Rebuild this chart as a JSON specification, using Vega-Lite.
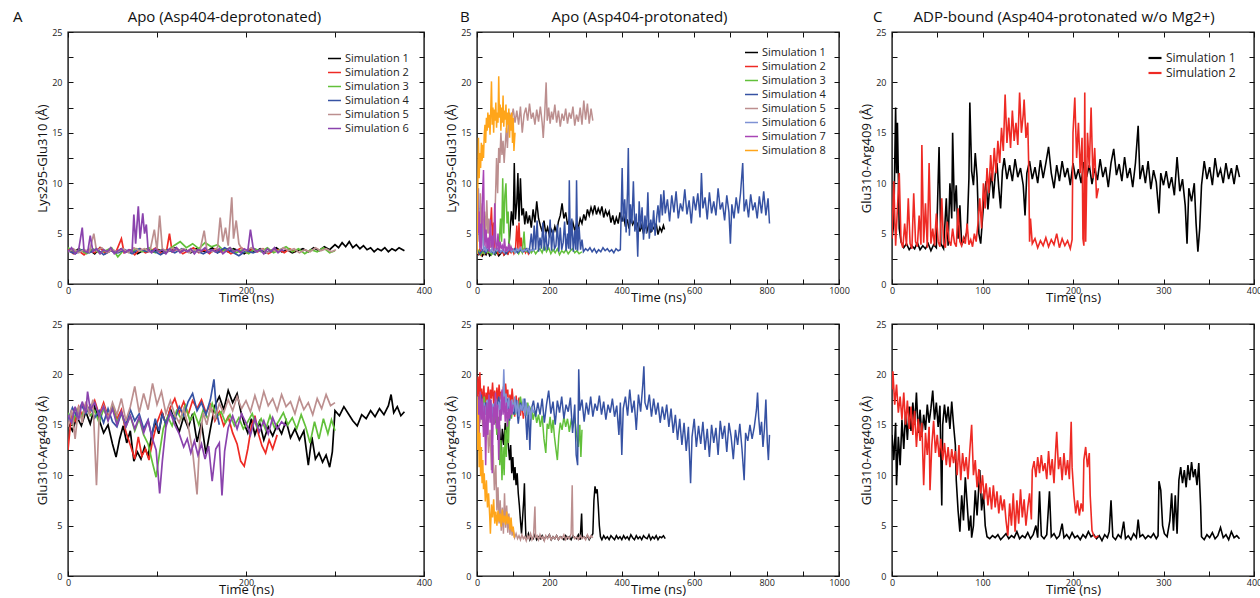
{
"$schema": "https://vega.github.io/schema/vega-lite/v6.json",
"padding": {"left": 12, "top": 9, "right": 0, "bottom": 0},
"config": {
  "font": "Open Sans",
  "view": {"stroke": "#111", "strokeWidth": 1.4},
  "axis": {"grid": false, "domain": false, "tickColor": "#111", "tickWidth": 1, "labelFontSize": 9, "labelColor": "#222", "titleFontSize": 13, "titleFontWeight": "normal", "titleColor": "#111", "labelFont": "Open Sans", "titleFont": "Open Sans"},
  "title": {"fontSize": 15, "fontWeight": "normal", "anchor": "start", "frame": "group", "color": "#111", "offset": 3, "font": "Open Sans"},
  "legend": {"orient": "none", "title": null, "symbolType": "stroke", "symbolSize": 169, "symbolStrokeWidth": 1.5, "labelFontSize": 11, "labelColor": "#222", "labelOffset": 3, "rowPadding": 1, "padding": 0}
},
"datasets": {
"at": [
{"s":1,"t":0,"v":3.4},{"s":1,"t":6,"v":3.1},{"s":1,"t":12,"v":3.5},{"s":1,"t":18,"v":3.2},{"s":1,"t":24,"v":3.4},{"s":1,"t":30,"v":3.0},{"s":1,"t":36,"v":3.6},{"s":1,"t":42,"v":3.2},{"s":1,"t":48,"v":3.3},{"s":1,"t":54,"v":3.1},{"s":1,"t":60,"v":3.5},{"s":1,"t":66,"v":3.2},{"s":1,"t":72,"v":3.4},{"s":1,"t":78,"v":3.0},{"s":1,"t":84,"v":3.3},{"s":1,"t":90,"v":3.5},{"s":1,"t":96,"v":3.2},{"s":1,"t":102,"v":3.4},{"s":1,"t":108,"v":3.1},{"s":1,"t":114,"v":3.3},{"s":1,"t":120,"v":3.6},{"s":1,"t":126,"v":3.2},{"s":1,"t":132,"v":3.4},{"s":1,"t":138,"v":3.1},{"s":1,"t":144,"v":3.5},{"s":1,"t":150,"v":3.3},{"s":1,"t":156,"v":3.2},{"s":1,"t":162,"v":3.6},{"s":1,"t":168,"v":3.1},{"s":1,"t":174,"v":3.4},{"s":1,"t":180,"v":3.2},{"s":1,"t":186,"v":3.5},{"s":1,"t":192,"v":3.3},{"s":1,"t":198,"v":3.0},{"s":1,"t":204,"v":3.4},{"s":1,"t":210,"v":3.2},{"s":1,"t":216,"v":3.5},{"s":1,"t":222,"v":3.1},{"s":1,"t":228,"v":3.3},{"s":1,"t":234,"v":3.6},{"s":1,"t":240,"v":3.2},{"s":1,"t":246,"v":3.4},{"s":1,"t":252,"v":3.1},{"s":1,"t":258,"v":3.3},{"s":1,"t":264,"v":3.5},{"s":1,"t":270,"v":3.2},{"s":1,"t":276,"v":3.6},{"s":1,"t":282,"v":3.3},{"s":1,"t":288,"v":3.7},{"s":1,"t":294,"v":3.4},{"s":1,"t":300,"v":3.9},{"s":1,"t":304,"v":3.6},{"s":1,"t":308,"v":4.1},{"s":1,"t":312,"v":3.7},{"s":1,"t":316,"v":4.2},{"s":1,"t":320,"v":3.6},{"s":1,"t":324,"v":3.9},{"s":1,"t":328,"v":3.5},{"s":1,"t":332,"v":3.8},{"s":1,"t":336,"v":3.4},{"s":1,"t":340,"v":3.6},{"s":1,"t":344,"v":3.2},{"s":1,"t":348,"v":3.5},{"s":1,"t":352,"v":3.3},{"s":1,"t":356,"v":3.6},{"s":1,"t":360,"v":3.2},{"s":1,"t":364,"v":3.5},{"s":1,"t":368,"v":3.3},{"s":1,"t":372,"v":3.6},{"s":1,"t":376,"v":3.4},{"s":1,"t":378,"v":3.3},
{"s":2,"t":0,"v":3.5},{"s":2,"t":6,"v":3.0},{"s":2,"t":12,"v":3.3},{"s":2,"t":18,"v":2.9},{"s":2,"t":24,"v":3.4},{"s":2,"t":30,"v":3.1},{"s":2,"t":36,"v":3.6},{"s":2,"t":42,"v":3.0},{"s":2,"t":48,"v":3.3},{"s":2,"t":54,"v":3.2},{"s":2,"t":60,"v":4.5},{"s":2,"t":63,"v":3.1},{"s":2,"t":69,"v":3.4},{"s":2,"t":75,"v":2.9},{"s":2,"t":81,"v":3.5},{"s":2,"t":87,"v":3.1},{"s":2,"t":93,"v":3.3},{"s":2,"t":99,"v":3.6},{"s":2,"t":105,"v":3.0},{"s":2,"t":111,"v":3.4},{"s":2,"t":114,"v":5.0},{"s":2,"t":117,"v":3.2},{"s":2,"t":123,"v":3.5},{"s":2,"t":129,"v":3.0},{"s":2,"t":135,"v":3.3},{"s":2,"t":141,"v":3.6},{"s":2,"t":147,"v":3.1},{"s":2,"t":153,"v":3.4},{"s":2,"t":159,"v":3.0},{"s":2,"t":165,"v":3.5},{"s":2,"t":171,"v":3.2},{"s":2,"t":177,"v":3.4},{"s":2,"t":183,"v":3.0},{"s":2,"t":189,"v":3.3},{"s":2,"t":195,"v":3.6},{"s":2,"t":201,"v":3.1},{"s":2,"t":207,"v":3.4},{"s":2,"t":213,"v":3.2},{"s":2,"t":219,"v":3.5},{"s":2,"t":225,"v":3.0},{"s":2,"t":231,"v":3.3},{"s":2,"t":237,"v":3.4},{"s":2,"t":243,"v":3.1},{"s":2,"t":249,"v":3.5},{"s":2,"t":255,"v":3.2},
{"s":3,"t":0,"v":3.6},{"s":3,"t":7,"v":3.2},{"s":3,"t":14,"v":3.4},{"s":3,"t":21,"v":3.0},{"s":3,"t":28,"v":3.5},{"s":3,"t":35,"v":3.1},{"s":3,"t":42,"v":3.3},{"s":3,"t":49,"v":3.6},{"s":3,"t":56,"v":2.7},{"s":3,"t":63,"v":3.4},{"s":3,"t":70,"v":3.1},{"s":3,"t":77,"v":3.5},{"s":3,"t":84,"v":3.2},{"s":3,"t":91,"v":3.6},{"s":3,"t":98,"v":3.1},{"s":3,"t":105,"v":3.4},{"s":3,"t":112,"v":3.3},{"s":3,"t":119,"v":3.8},{"s":3,"t":126,"v":4.2},{"s":3,"t":133,"v":3.6},{"s":3,"t":140,"v":4.0},{"s":3,"t":147,"v":3.5},{"s":3,"t":154,"v":4.1},{"s":3,"t":161,"v":3.7},{"s":3,"t":168,"v":3.9},{"s":3,"t":175,"v":3.3},{"s":3,"t":182,"v":3.6},{"s":3,"t":189,"v":3.1},{"s":3,"t":196,"v":3.4},{"s":3,"t":203,"v":3.0},{"s":3,"t":210,"v":3.5},{"s":3,"t":217,"v":3.2},{"s":3,"t":224,"v":3.6},{"s":3,"t":231,"v":3.1},{"s":3,"t":238,"v":3.4},{"s":3,"t":245,"v":3.7},{"s":3,"t":252,"v":3.2},{"s":3,"t":259,"v":3.5},{"s":3,"t":266,"v":3.0},{"s":3,"t":273,"v":3.4},{"s":3,"t":280,"v":3.2},{"s":3,"t":287,"v":3.6},{"s":3,"t":294,"v":3.1},{"s":3,"t":300,"v":3.3},
{"s":4,"t":0,"v":3.3},{"s":4,"t":8,"v":3.0},{"s":4,"t":16,"v":3.4},{"s":4,"t":24,"v":3.1},{"s":4,"t":32,"v":3.5},{"s":4,"t":40,"v":2.9},{"s":4,"t":48,"v":3.3},{"s":4,"t":56,"v":3.1},{"s":4,"t":64,"v":3.4},{"s":4,"t":72,"v":3.0},{"s":4,"t":80,"v":3.5},{"s":4,"t":88,"v":3.2},{"s":4,"t":96,"v":3.3},{"s":4,"t":104,"v":2.9},{"s":4,"t":112,"v":3.4},{"s":4,"t":120,"v":3.1},{"s":4,"t":128,"v":3.5},{"s":4,"t":136,"v":3.2},{"s":4,"t":144,"v":3.3},{"s":4,"t":152,"v":3.0},{"s":4,"t":160,"v":3.4},{"s":4,"t":168,"v":3.1},{"s":4,"t":176,"v":3.6},{"s":4,"t":184,"v":3.2},{"s":4,"t":192,"v":2.8},{"s":4,"t":200,"v":3.3},{"s":4,"t":208,"v":3.1},{"s":4,"t":216,"v":3.4},{"s":4,"t":224,"v":3.2},{"s":4,"t":230,"v":3.3},
{"s":5,"t":0,"v":3.2},{"s":5,"t":6,"v":3.5},{"s":5,"t":12,"v":3.1},{"s":5,"t":18,"v":3.4},{"s":5,"t":24,"v":3.2},{"s":5,"t":29,"v":5.0},{"s":5,"t":32,"v":3.3},{"s":5,"t":38,"v":3.6},{"s":5,"t":44,"v":3.1},{"s":5,"t":50,"v":3.4},{"s":5,"t":56,"v":3.2},{"s":5,"t":62,"v":3.5},{"s":5,"t":68,"v":3.1},{"s":5,"t":74,"v":3.6},{"s":5,"t":80,"v":3.3},{"s":5,"t":86,"v":3.5},{"s":5,"t":92,"v":3.2},{"s":5,"t":97,"v":5.4},{"s":5,"t":100,"v":3.4},{"s":5,"t":103,"v":6.8},{"s":5,"t":106,"v":3.5},{"s":5,"t":112,"v":3.2},{"s":5,"t":118,"v":3.6},{"s":5,"t":124,"v":3.3},{"s":5,"t":130,"v":3.5},{"s":5,"t":136,"v":3.1},{"s":5,"t":142,"v":3.4},{"s":5,"t":148,"v":3.2},{"s":5,"t":153,"v":5.3},{"s":5,"t":156,"v":3.4},{"s":5,"t":162,"v":3.2},{"s":5,"t":168,"v":3.6},{"s":5,"t":171,"v":6.6},{"s":5,"t":174,"v":4.2},{"s":5,"t":177,"v":5.6},{"s":5,"t":180,"v":3.8},{"s":5,"t":184,"v":8.6},{"s":5,"t":186,"v":4.5},{"s":5,"t":189,"v":6.3},{"s":5,"t":192,"v":4.0},{"s":5,"t":195,"v":3.5},{"s":5,"t":200,"v":3.3},{"s":5,"t":206,"v":3.6},{"s":5,"t":212,"v":3.2},{"s":5,"t":218,"v":3.5},{"s":5,"t":224,"v":3.1},{"s":5,"t":230,"v":3.4},{"s":5,"t":236,"v":3.2},{"s":5,"t":242,"v":3.6},{"s":5,"t":248,"v":3.3},{"s":5,"t":254,"v":3.5},{"s":5,"t":260,"v":3.1},{"s":5,"t":266,"v":3.4},{"s":5,"t":272,"v":3.2},{"s":5,"t":278,"v":3.6},{"s":5,"t":284,"v":3.3},{"s":5,"t":290,"v":3.5},{"s":5,"t":296,"v":3.2},{"s":5,"t":301,"v":3.4},
{"s":6,"t":0,"v":3.2},{"s":6,"t":4,"v":3.6},{"s":6,"t":8,"v":3.0},{"s":6,"t":12,"v":3.4},{"s":6,"t":16,"v":5.6},{"s":6,"t":18,"v":3.3},{"s":6,"t":22,"v":3.1},{"s":6,"t":25,"v":4.8},{"s":6,"t":28,"v":3.2},{"s":6,"t":32,"v":3.5},{"s":6,"t":36,"v":3.0},{"s":6,"t":40,"v":3.4},{"s":6,"t":44,"v":3.2},{"s":6,"t":48,"v":3.6},{"s":6,"t":52,"v":3.0},{"s":6,"t":56,"v":3.3},{"s":6,"t":60,"v":3.5},{"s":6,"t":64,"v":3.1},{"s":6,"t":68,"v":3.4},{"s":6,"t":72,"v":3.2},{"s":6,"t":74,"v":6.9},{"s":6,"t":76,"v":4.0},{"s":6,"t":79,"v":7.7},{"s":6,"t":81,"v":4.5},{"s":6,"t":84,"v":7.0},{"s":6,"t":86,"v":5.0},{"s":6,"t":88,"v":5.9},{"s":6,"t":90,"v":3.4},{"s":6,"t":94,"v":3.1},{"s":6,"t":98,"v":3.5},{"s":6,"t":102,"v":3.2},{"s":6,"t":106,"v":3.4},{"s":6,"t":110,"v":3.0},{"s":6,"t":114,"v":3.5},{"s":6,"t":118,"v":3.2},{"s":6,"t":122,"v":3.6},{"s":6,"t":126,"v":3.1},{"s":6,"t":130,"v":3.4},{"s":6,"t":134,"v":3.2},{"s":6,"t":138,"v":3.5},{"s":6,"t":142,"v":3.0},{"s":6,"t":146,"v":3.4},{"s":6,"t":150,"v":3.3},{"s":6,"t":154,"v":3.6},{"s":6,"t":158,"v":3.1},{"s":6,"t":162,"v":3.4},{"s":6,"t":166,"v":3.2},{"s":6,"t":170,"v":3.5},{"s":6,"t":174,"v":3.0},{"s":6,"t":178,"v":3.3},{"s":6,"t":182,"v":3.6},{"s":6,"t":186,"v":3.2},{"s":6,"t":190,"v":3.4},{"s":6,"t":194,"v":3.1},{"s":6,"t":198,"v":3.5},{"s":6,"t":202,"v":3.3},{"s":6,"t":205,"v":5.4},{"s":6,"t":208,"v":3.6},{"s":6,"t":212,"v":3.2},{"s":6,"t":216,"v":3.4},{"s":6,"t":220,"v":3.0},{"s":6,"t":224,"v":3.5},{"s":6,"t":228,"v":3.2},{"s":6,"t":232,"v":3.6},{"s":6,"t":236,"v":3.1},{"s":6,"t":240,"v":3.4},{"s":6,"t":243,"v":3.3}
],
"ab": [
{"s":1,"t":0,"v":15.2},{"s":1,"t":5,"v":14.4},{"s":1,"t":10,"v":15.8},{"s":1,"t":15,"v":14.9},{"s":1,"t":20,"v":16.3},{"s":1,"t":25,"v":15.1},{"s":1,"t":30,"v":16.8},{"s":1,"t":35,"v":15.5},{"s":1,"t":40,"v":14.2},{"s":1,"t":45,"v":15.0},{"s":1,"t":50,"v":13.1},{"s":1,"t":54,"v":11.8},{"s":1,"t":58,"v":13.6},{"s":1,"t":62,"v":14.9},{"s":1,"t":66,"v":13.2},{"s":1,"t":70,"v":14.4},{"s":1,"t":74,"v":11.4},{"s":1,"t":78,"v":12.3},{"s":1,"t":82,"v":11.6},{"s":1,"t":86,"v":12.8},{"s":1,"t":90,"v":11.9},{"s":1,"t":94,"v":14.0},{"s":1,"t":98,"v":15.3},{"s":1,"t":102,"v":14.1},{"s":1,"t":106,"v":16.2},{"s":1,"t":110,"v":15.0},{"s":1,"t":115,"v":16.6},{"s":1,"t":120,"v":15.4},{"s":1,"t":125,"v":14.3},{"s":1,"t":130,"v":15.8},{"s":1,"t":135,"v":14.7},{"s":1,"t":140,"v":16.1},{"s":1,"t":145,"v":13.3},{"s":1,"t":150,"v":15.2},{"s":1,"t":155,"v":12.1},{"s":1,"t":160,"v":14.6},{"s":1,"t":165,"v":16.9},{"s":1,"t":170,"v":17.8},{"s":1,"t":175,"v":16.5},{"s":1,"t":180,"v":18.4},{"s":1,"t":185,"v":17.2},{"s":1,"t":190,"v":18.1},{"s":1,"t":194,"v":16.4},{"s":1,"t":198,"v":15.1},{"s":1,"t":202,"v":14.2},{"s":1,"t":206,"v":15.6},{"s":1,"t":210,"v":14.0},{"s":1,"t":215,"v":15.3},{"s":1,"t":220,"v":13.5},{"s":1,"t":225,"v":14.8},{"s":1,"t":230,"v":13.9},{"s":1,"t":235,"v":15.0},{"s":1,"t":240,"v":14.1},{"s":1,"t":245,"v":15.4},{"s":1,"t":250,"v":13.7},{"s":1,"t":255,"v":14.6},{"s":1,"t":260,"v":13.5},{"s":1,"t":265,"v":14.4},{"s":1,"t":270,"v":11.0},{"s":1,"t":274,"v":13.8},{"s":1,"t":278,"v":11.6},{"s":1,"t":282,"v":12.2},{"s":1,"t":286,"v":11.3},{"s":1,"t":290,"v":12.0},{"s":1,"t":294,"v":10.8},{"s":1,"t":297,"v":12.3},{"s":1,"t":300,"v":16.4},{"s":1,"t":305,"v":15.9},{"s":1,"t":310,"v":16.8},{"s":1,"t":315,"v":16.1},{"s":1,"t":320,"v":15.4},{"s":1,"t":325,"v":14.9},{"s":1,"t":330,"v":16.0},{"s":1,"t":335,"v":15.6},{"s":1,"t":340,"v":16.4},{"s":1,"t":345,"v":15.8},{"s":1,"t":350,"v":16.6},{"s":1,"t":355,"v":16.0},{"s":1,"t":360,"v":16.9},{"s":1,"t":363,"v":18.0},{"s":1,"t":366,"v":16.2},{"s":1,"t":370,"v":16.8},{"s":1,"t":374,"v":15.9},{"s":1,"t":378,"v":16.3},
{"s":2,"t":0,"v":12.5},{"s":2,"t":4,"v":16.2},{"s":2,"t":8,"v":15.4},{"s":2,"t":12,"v":16.8},{"s":2,"t":16,"v":15.9},{"s":2,"t":20,"v":17.1},{"s":2,"t":25,"v":16.3},{"s":2,"t":30,"v":17.4},{"s":2,"t":35,"v":16.0},{"s":2,"t":40,"v":17.2},{"s":2,"t":45,"v":15.8},{"s":2,"t":50,"v":16.9},{"s":2,"t":55,"v":15.6},{"s":2,"t":60,"v":16.5},{"s":2,"t":65,"v":14.3},{"s":2,"t":70,"v":13.0},{"s":2,"t":75,"v":11.6},{"s":2,"t":79,"v":13.8},{"s":2,"t":83,"v":11.9},{"s":2,"t":87,"v":12.6},{"s":2,"t":91,"v":11.5},{"s":2,"t":95,"v":13.4},{"s":2,"t":100,"v":15.2},{"s":2,"t":105,"v":16.4},{"s":2,"t":110,"v":15.1},{"s":2,"t":115,"v":16.7},{"s":2,"t":120,"v":17.6},{"s":2,"t":125,"v":16.2},{"s":2,"t":130,"v":17.3},{"s":2,"t":135,"v":16.0},{"s":2,"t":140,"v":17.4},{"s":2,"t":145,"v":16.6},{"s":2,"t":150,"v":17.5},{"s":2,"t":155,"v":16.2},{"s":2,"t":160,"v":17.0},{"s":2,"t":165,"v":15.4},{"s":2,"t":170,"v":16.3},{"s":2,"t":175,"v":14.9},{"s":2,"t":180,"v":15.8},{"s":2,"t":185,"v":14.2},{"s":2,"t":190,"v":13.1},{"s":2,"t":194,"v":11.4},{"s":2,"t":198,"v":10.9},{"s":2,"t":202,"v":12.6},{"s":2,"t":206,"v":14.8},{"s":2,"t":210,"v":15.9},{"s":2,"t":214,"v":14.1},{"s":2,"t":218,"v":12.9},{"s":2,"t":222,"v":12.2},{"s":2,"t":226,"v":13.5},{"s":2,"t":230,"v":12.6},{"s":2,"t":235,"v":14.0},
{"s":3,"t":0,"v":16.2},{"s":3,"t":5,"v":15.1},{"s":3,"t":10,"v":16.5},{"s":3,"t":15,"v":15.7},{"s":3,"t":20,"v":16.9},{"s":3,"t":25,"v":15.9},{"s":3,"t":30,"v":16.4},{"s":3,"t":35,"v":15.2},{"s":3,"t":40,"v":16.6},{"s":3,"t":45,"v":15.5},{"s":3,"t":50,"v":16.8},{"s":3,"t":55,"v":15.3},{"s":3,"t":60,"v":16.1},{"s":3,"t":65,"v":14.8},{"s":3,"t":70,"v":15.9},{"s":3,"t":75,"v":14.4},{"s":3,"t":80,"v":15.6},{"s":3,"t":85,"v":14.0},{"s":3,"t":90,"v":13.1},{"s":3,"t":95,"v":11.2},{"s":3,"t":99,"v":9.8},{"s":3,"t":103,"v":12.3},{"s":3,"t":107,"v":14.6},{"s":3,"t":112,"v":15.8},{"s":3,"t":117,"v":14.9},{"s":3,"t":122,"v":16.4},{"s":3,"t":127,"v":15.6},{"s":3,"t":132,"v":16.9},{"s":3,"t":137,"v":15.4},{"s":3,"t":142,"v":16.2},{"s":3,"t":147,"v":15.0},{"s":3,"t":152,"v":16.5},{"s":3,"t":157,"v":15.6},{"s":3,"t":162,"v":17.1},{"s":3,"t":167,"v":15.8},{"s":3,"t":172,"v":16.3},{"s":3,"t":177,"v":15.2},{"s":3,"t":182,"v":16.0},{"s":3,"t":187,"v":14.9},{"s":3,"t":192,"v":15.7},{"s":3,"t":197,"v":14.6},{"s":3,"t":202,"v":15.3},{"s":3,"t":207,"v":16.1},{"s":3,"t":212,"v":14.8},{"s":3,"t":217,"v":15.6},{"s":3,"t":222,"v":14.5},{"s":3,"t":227,"v":15.9},{"s":3,"t":232,"v":14.7},{"s":3,"t":237,"v":15.4},{"s":3,"t":242,"v":16.2},{"s":3,"t":247,"v":15.0},{"s":3,"t":252,"v":15.7},{"s":3,"t":257,"v":14.6},{"s":3,"t":262,"v":16.0},{"s":3,"t":267,"v":14.8},{"s":3,"t":272,"v":13.2},{"s":3,"t":277,"v":15.3},{"s":3,"t":282,"v":13.6},{"s":3,"t":287,"v":15.6},{"s":3,"t":292,"v":14.1},{"s":3,"t":296,"v":15.5},{"s":3,"t":300,"v":14.4},
{"s":4,"t":0,"v":15.4},{"s":4,"t":5,"v":16.7},{"s":4,"t":10,"v":15.8},{"s":4,"t":15,"v":17.0},{"s":4,"t":20,"v":16.1},{"s":4,"t":25,"v":16.9},{"s":4,"t":30,"v":15.7},{"s":4,"t":35,"v":16.4},{"s":4,"t":40,"v":15.2},{"s":4,"t":45,"v":16.6},{"s":4,"t":50,"v":15.3},{"s":4,"t":55,"v":14.8},{"s":4,"t":60,"v":16.2},{"s":4,"t":65,"v":15.0},{"s":4,"t":70,"v":16.5},{"s":4,"t":75,"v":15.4},{"s":4,"t":80,"v":16.1},{"s":4,"t":85,"v":14.6},{"s":4,"t":90,"v":15.5},{"s":4,"t":94,"v":13.8},{"s":4,"t":98,"v":15.6},{"s":4,"t":102,"v":14.4},{"s":4,"t":106,"v":16.0},{"s":4,"t":110,"v":15.1},{"s":4,"t":115,"v":16.3},{"s":4,"t":120,"v":15.5},{"s":4,"t":125,"v":16.8},{"s":4,"t":130,"v":15.9},{"s":4,"t":135,"v":17.3},{"s":4,"t":140,"v":18.1},{"s":4,"t":145,"v":16.4},{"s":4,"t":150,"v":17.2},{"s":4,"t":155,"v":16.0},{"s":4,"t":160,"v":17.5},{"s":4,"t":164,"v":19.5},{"s":4,"t":167,"v":16.2},{"s":4,"t":170,"v":15.0},
{"s":5,"t":0,"v":14.8},{"s":5,"t":4,"v":16.5},{"s":5,"t":8,"v":13.6},{"s":5,"t":12,"v":16.9},{"s":5,"t":16,"v":15.2},{"s":5,"t":20,"v":17.3},{"s":5,"t":24,"v":16.1},{"s":5,"t":28,"v":17.5},{"s":5,"t":32,"v":9.0},{"s":5,"t":35,"v":15.8},{"s":5,"t":40,"v":16.9},{"s":5,"t":45,"v":15.6},{"s":5,"t":50,"v":17.2},{"s":5,"t":55,"v":16.0},{"s":5,"t":60,"v":17.6},{"s":5,"t":65,"v":15.4},{"s":5,"t":70,"v":16.8},{"s":5,"t":75,"v":18.8},{"s":5,"t":80,"v":16.2},{"s":5,"t":85,"v":18.1},{"s":5,"t":90,"v":16.5},{"s":5,"t":95,"v":19.1},{"s":5,"t":100,"v":17.0},{"s":5,"t":105,"v":18.3},{"s":5,"t":110,"v":16.1},{"s":5,"t":115,"v":17.4},{"s":5,"t":120,"v":16.0},{"s":5,"t":125,"v":15.2},{"s":5,"t":130,"v":16.6},{"s":5,"t":135,"v":14.9},{"s":5,"t":140,"v":12.4},{"s":5,"t":145,"v":8.1},{"s":5,"t":148,"v":13.5},{"s":5,"t":152,"v":16.2},{"s":5,"t":156,"v":15.0},{"s":5,"t":160,"v":16.8},{"s":5,"t":165,"v":15.6},{"s":5,"t":170,"v":17.1},{"s":5,"t":175,"v":16.2},{"s":5,"t":180,"v":17.5},{"s":5,"t":185,"v":16.4},{"s":5,"t":190,"v":17.8},{"s":5,"t":195,"v":16.6},{"s":5,"t":200,"v":17.4},{"s":5,"t":205,"v":16.3},{"s":5,"t":210,"v":17.9},{"s":5,"t":215,"v":16.5},{"s":5,"t":220,"v":18.3},{"s":5,"t":225,"v":16.9},{"s":5,"t":230,"v":17.6},{"s":5,"t":235,"v":16.4},{"s":5,"t":240,"v":18.0},{"s":5,"t":245,"v":16.8},{"s":5,"t":250,"v":17.3},{"s":5,"t":255,"v":16.1},{"s":5,"t":260,"v":17.7},{"s":5,"t":265,"v":16.5},{"s":5,"t":270,"v":17.2},{"s":5,"t":275,"v":16.0},{"s":5,"t":280,"v":17.6},{"s":5,"t":285,"v":16.6},{"s":5,"t":290,"v":18.0},{"s":5,"t":295,"v":16.9},{"s":5,"t":300,"v":17.2},
{"s":6,"t":0,"v":16.0},{"s":6,"t":4,"v":15.2},{"s":6,"t":8,"v":16.8},{"s":6,"t":12,"v":15.5},{"s":6,"t":16,"v":17.3},{"s":6,"t":20,"v":16.2},{"s":6,"t":22,"v":18.3},{"s":6,"t":25,"v":16.5},{"s":6,"t":30,"v":17.2},{"s":6,"t":35,"v":15.9},{"s":6,"t":40,"v":16.8},{"s":6,"t":45,"v":15.4},{"s":6,"t":50,"v":16.6},{"s":6,"t":55,"v":15.0},{"s":6,"t":60,"v":16.3},{"s":6,"t":65,"v":14.8},{"s":6,"t":70,"v":15.9},{"s":6,"t":75,"v":14.6},{"s":6,"t":80,"v":15.8},{"s":6,"t":85,"v":14.2},{"s":6,"t":90,"v":15.4},{"s":6,"t":95,"v":13.6},{"s":6,"t":99,"v":12.5},{"s":6,"t":103,"v":8.2},{"s":6,"t":106,"v":11.4},{"s":6,"t":110,"v":14.8},{"s":6,"t":115,"v":16.2},{"s":6,"t":120,"v":15.0},{"s":6,"t":125,"v":14.1},{"s":6,"t":130,"v":12.8},{"s":6,"t":134,"v":13.6},{"s":6,"t":138,"v":12.2},{"s":6,"t":142,"v":13.4},{"s":6,"t":146,"v":12.0},{"s":6,"t":150,"v":13.1},{"s":6,"t":154,"v":11.6},{"s":6,"t":158,"v":12.9},{"s":6,"t":162,"v":9.4},{"s":6,"t":166,"v":12.6},{"s":6,"t":170,"v":13.2},{"s":6,"t":173,"v":8.0},{"s":6,"t":176,"v":12.4},{"s":6,"t":180,"v":14.7},{"s":6,"t":185,"v":15.9},{"s":6,"t":190,"v":14.6},{"s":6,"t":195,"v":16.1},{"s":6,"t":200,"v":15.2},{"s":6,"t":205,"v":14.0},{"s":6,"t":210,"v":15.6},{"s":6,"t":215,"v":14.3},{"s":6,"t":220,"v":15.4},{"s":6,"t":225,"v":14.1},{"s":6,"t":230,"v":15.7},{"s":6,"t":235,"v":14.6},{"s":6,"t":240,"v":15.3},{"s":6,"t":245,"v":14.9}
],
"bt": [
{"s":1,"t":0,"v":3.0},{"s":1,"t":5,"v":2.9},{"s":1,"t":10,"v":3.2},{"s":1,"t":15,"v":2.8},{"s":1,"t":20,"v":3.1},{"s":1,"t":25,"v":2.9},{"s":1,"t":30,"v":3.3},{"s":1,"t":35,"v":2.8},{"s":1,"t":40,"v":3.0},{"s":1,"t":45,"v":3.1},{"s":1,"t":50,"v":2.9},{"s":1,"t":55,"v":3.2},{"s":1,"t":60,"v":2.8},{"s":1,"t":65,"v":3.0},{"s":1,"t":70,"v":3.3},{"s":1,"t":75,"v":2.9},{"s":1,"t":80,"v":3.1},{"s":1,"t":85,"v":3.0},{"s":1,"t":90,"v":4.5},{"s":1,"t":95,"v":7.2},{"s":1,"t":100,"v":5.8},{"s":1,"t":103,"v":12.0},{"s":1,"t":106,"v":6.4},{"s":1,"t":110,"v":8.1},{"s":1,"t":113,"v":11.0},{"s":1,"t":116,"v":6.2},{"s":1,"t":120,"v":10.5},{"s":1,"t":124,"v":6.8},{"s":1,"t":128,"v":7.5},{"s":1,"t":132,"v":5.9},{"s":1,"t":136,"v":7.2},{"s":1,"t":140,"v":6.0},{"s":1,"t":145,"v":6.8},{"s":1,"t":150,"v":5.6},{"s":1,"t":155,"v":7.4},{"s":1,"t":160,"v":6.1},{"s":1,"t":165,"v":8.2},{"s":1,"t":170,"v":6.5},{"s":1,"t":175,"v":5.8},{"s":1,"t":180,"v":5.2},{"s":1,"t":185,"v":6.3},{"s":1,"t":190,"v":5.0},{"s":1,"t":195,"v":5.6},{"s":1,"t":200,"v":4.8},{"s":1,"t":205,"v":5.4},{"s":1,"t":210,"v":4.9},{"s":1,"t":215,"v":5.7},{"s":1,"t":220,"v":5.1},{"s":1,"t":225,"v":6.2},{"s":1,"t":230,"v":6.8},{"s":1,"t":235,"v":8.0},{"s":1,"t":240,"v":6.5},{"s":1,"t":245,"v":7.1},{"s":1,"t":250,"v":5.9},{"s":1,"t":255,"v":6.4},{"s":1,"t":260,"v":5.5},{"s":1,"t":265,"v":6.1},{"s":1,"t":270,"v":5.3},{"s":1,"t":275,"v":6.0},{"s":1,"t":280,"v":5.6},{"s":1,"t":285,"v":6.5},{"s":1,"t":290,"v":6.0},{"s":1,"t":295,"v":6.9},{"s":1,"t":300,"v":6.3},{"s":1,"t":305,"v":7.4},{"s":1,"t":310,"v":6.8},{"s":1,"t":315,"v":7.6},{"s":1,"t":320,"v":7.0},{"s":1,"t":325,"v":7.8},{"s":1,"t":330,"v":6.9},{"s":1,"t":335,"v":7.5},{"s":1,"t":340,"v":7.0},{"s":1,"t":345,"v":7.7},{"s":1,"t":350,"v":6.6},{"s":1,"t":355,"v":7.3},{"s":1,"t":360,"v":6.8},{"s":1,"t":365,"v":7.2},{"s":1,"t":370,"v":6.1},{"s":1,"t":375,"v":6.8},{"s":1,"t":380,"v":5.9},{"s":1,"t":385,"v":6.6},{"s":1,"t":390,"v":6.0},{"s":1,"t":395,"v":7.1},{"s":1,"t":400,"v":6.2},{"s":1,"t":405,"v":6.8},{"s":1,"t":410,"v":5.7},{"s":1,"t":415,"v":6.4},{"s":1,"t":420,"v":5.5},{"s":1,"t":425,"v":6.6},{"s":1,"t":430,"v":5.9},{"s":1,"t":435,"v":6.3},{"s":1,"t":440,"v":5.4},{"s":1,"t":445,"v":6.1},{"s":1,"t":450,"v":5.2},{"s":1,"t":455,"v":5.8},{"s":1,"t":460,"v":5.0},{"s":1,"t":465,"v":5.9},{"s":1,"t":470,"v":5.3},{"s":1,"t":475,"v":6.0},{"s":1,"t":480,"v":5.1},{"s":1,"t":485,"v":5.7},{"s":1,"t":490,"v":5.4},{"s":1,"t":495,"v":6.0},{"s":1,"t":500,"v":4.9},{"s":1,"t":505,"v":5.6},{"s":1,"t":510,"v":5.2},{"s":1,"t":515,"v":5.8},{"s":1,"t":518,"v":5.4},
{"s":2,"t":0,"v":3.2},{"s":2,"t":4,"v":3.0},{"s":2,"t":8,"v":3.5},{"s":2,"t":12,"v":2.9},{"s":2,"t":16,"v":3.3},{"s":2,"t":20,"v":3.0},{"s":2,"t":24,"v":3.6},{"s":2,"t":28,"v":3.1},{"s":2,"t":32,"v":3.4},{"s":2,"t":36,"v":5.2},{"s":2,"t":40,"v":7.6},{"s":2,"t":43,"v":4.0},{"s":2,"t":46,"v":6.1},{"s":2,"t":50,"v":3.2},{"s":2,"t":54,"v":3.5},{"s":2,"t":58,"v":3.0},{"s":2,"t":62,"v":3.4},{"s":2,"t":66,"v":3.1},{"s":2,"t":70,"v":3.3},{"s":2,"t":74,"v":2.9},{"s":2,"t":78,"v":3.2},{"s":2,"t":82,"v":3.5},{"s":2,"t":86,"v":3.0},{"s":2,"t":90,"v":3.3},{"s":2,"t":94,"v":3.1},{"s":2,"t":98,"v":3.4},{"s":2,"t":102,"v":3.0},{"s":2,"t":106,"v":3.3},{"s":2,"t":110,"v":5.8},{"s":2,"t":113,"v":3.4},{"s":2,"t":116,"v":6.1},{"s":2,"t":119,"v":3.5},{"s":2,"t":122,"v":4.6},{"s":2,"t":126,"v":3.2},{"s":2,"t":130,"v":3.5},{"s":2,"t":134,"v":3.1},{"s":2,"t":138,"v":3.4},{"s":2,"t":142,"v":3.0},{"s":2,"t":146,"v":3.3},{"s":2,"t":150,"v":3.2},
{"s":3,"t":0,"v":3.0},{"s":3,"t":5,"v":3.3},{"s":3,"t":10,"v":2.9},{"s":3,"t":15,"v":3.2},{"s":3,"t":20,"v":3.0},{"s":3,"t":25,"v":3.4},{"s":3,"t":30,"v":3.1},{"s":3,"t":35,"v":3.3},{"s":3,"t":40,"v":2.9},{"s":3,"t":45,"v":3.2},{"s":3,"t":50,"v":3.0},{"s":3,"t":55,"v":3.5},{"s":3,"t":60,"v":3.2},{"s":3,"t":65,"v":6.5},{"s":3,"t":68,"v":4.2},{"s":3,"t":71,"v":10.5},{"s":3,"t":74,"v":5.0},{"s":3,"t":77,"v":8.8},{"s":3,"t":80,"v":10.0},{"s":3,"t":83,"v":6.0},{"s":3,"t":86,"v":7.2},{"s":3,"t":89,"v":4.1},{"s":3,"t":92,"v":3.5},{"s":3,"t":96,"v":3.2},{"s":3,"t":100,"v":3.4},{"s":3,"t":105,"v":3.1},{"s":3,"t":110,"v":3.3},{"s":3,"t":115,"v":3.0},{"s":3,"t":120,"v":3.4},{"s":3,"t":125,"v":3.1},{"s":3,"t":130,"v":5.2},{"s":3,"t":133,"v":3.3},{"s":3,"t":138,"v":3.2},{"s":3,"t":144,"v":3.5},{"s":3,"t":150,"v":3.1},{"s":3,"t":156,"v":3.4},{"s":3,"t":162,"v":3.0},{"s":3,"t":168,"v":3.3},{"s":3,"t":174,"v":3.5},{"s":3,"t":180,"v":3.1},{"s":3,"t":186,"v":3.8},{"s":3,"t":192,"v":3.2},{"s":3,"t":198,"v":3.6},{"s":3,"t":204,"v":3.0},{"s":3,"t":210,"v":3.4},{"s":3,"t":216,"v":3.1},{"s":3,"t":222,"v":3.5},{"s":3,"t":228,"v":2.9},{"s":3,"t":234,"v":3.3},{"s":3,"t":240,"v":3.1},{"s":3,"t":246,"v":3.4},{"s":3,"t":252,"v":3.0},{"s":3,"t":258,"v":3.3},{"s":3,"t":264,"v":3.5},{"s":3,"t":270,"v":3.1},{"s":3,"t":276,"v":3.3},{"s":3,"t":282,"v":3.0},{"s":3,"t":290,"v":3.2},
{"s":4,"t":0,"v":3.3},{"s":4,"t":8,"v":3.0},{"s":4,"t":16,"v":3.4},{"s":4,"t":24,"v":3.1},{"s":4,"t":32,"v":3.5},{"s":4,"t":40,"v":3.2},{"s":4,"t":48,"v":3.0},{"s":4,"t":56,"v":3.4},{"s":4,"t":64,"v":3.1},{"s":4,"t":72,"v":3.3},{"s":4,"t":80,"v":3.0},{"s":4,"t":88,"v":3.4},{"s":4,"t":96,"v":3.2},{"s":4,"t":104,"v":3.5},{"s":4,"t":112,"v":3.1},{"s":4,"t":120,"v":3.4},{"s":4,"t":128,"v":3.2},{"s":4,"t":136,"v":3.5},{"s":4,"t":144,"v":3.1},{"s":4,"t":150,"v":5.0},{"s":4,"t":154,"v":3.3},{"s":4,"t":158,"v":5.8},{"s":4,"t":162,"v":3.4},{"s":4,"t":166,"v":6.3},{"s":4,"t":170,"v":3.2},{"s":4,"t":174,"v":4.6},{"s":4,"t":178,"v":3.5},{"s":4,"t":182,"v":6.1},{"s":4,"t":186,"v":3.3},{"s":4,"t":190,"v":5.2},{"s":4,"t":194,"v":3.4},{"s":4,"t":198,"v":4.0},{"s":4,"t":202,"v":6.4},{"s":4,"t":206,"v":3.3},{"s":4,"t":210,"v":5.4},{"s":4,"t":214,"v":3.5},{"s":4,"t":218,"v":3.8},{"s":4,"t":222,"v":5.9},{"s":4,"t":226,"v":3.2},{"s":4,"t":230,"v":5.6},{"s":4,"t":234,"v":3.4},{"s":4,"t":238,"v":4.1},{"s":4,"t":242,"v":6.2},{"s":4,"t":246,"v":3.3},{"s":4,"t":250,"v":5.0},{"s":4,"t":253,"v":3.5},{"s":4,"t":255,"v":10.3},{"s":4,"t":258,"v":3.4},{"s":4,"t":262,"v":6.5},{"s":4,"t":266,"v":3.2},{"s":4,"t":270,"v":5.3},{"s":4,"t":273,"v":3.4},{"s":4,"t":275,"v":10.3},{"s":4,"t":278,"v":3.3},{"s":4,"t":282,"v":5.7},{"s":4,"t":286,"v":3.4},{"s":4,"t":290,"v":4.4},{"s":4,"t":294,"v":3.2},{"s":4,"t":300,"v":3.5},{"s":4,"t":306,"v":3.3},{"s":4,"t":312,"v":3.6},{"s":4,"t":318,"v":3.2},{"s":4,"t":324,"v":3.5},{"s":4,"t":330,"v":3.1},{"s":4,"t":336,"v":3.4},{"s":4,"t":342,"v":3.2},{"s":4,"t":348,"v":3.6},{"s":4,"t":354,"v":3.3},{"s":4,"t":360,"v":3.5},{"s":4,"t":366,"v":3.2},{"s":4,"t":372,"v":3.4},{"s":4,"t":378,"v":3.1},{"s":4,"t":384,"v":3.5},{"s":4,"t":390,"v":3.3},{"s":4,"t":396,"v":3.4},{"s":4,"t":401,"v":11.5},{"s":4,"t":404,"v":6.2},{"s":4,"t":408,"v":8.4},{"s":4,"t":412,"v":5.1},{"s":4,"t":416,"v":9.5},{"s":4,"t":418,"v":13.5},{"s":4,"t":421,"v":4.8},{"s":4,"t":424,"v":7.9},{"s":4,"t":428,"v":6.0},{"s":4,"t":432,"v":10.2},{"s":4,"t":436,"v":5.2},{"s":4,"t":440,"v":7.0},{"s":4,"t":444,"v":2.7},{"s":4,"t":448,"v":8.2},{"s":4,"t":452,"v":5.5},{"s":4,"t":456,"v":7.6},{"s":4,"t":460,"v":4.4},{"s":4,"t":464,"v":6.8},{"s":4,"t":468,"v":5.0},{"s":4,"t":472,"v":9.1},{"s":4,"t":476,"v":4.5},{"s":4,"t":480,"v":6.4},{"s":4,"t":484,"v":5.2},{"s":4,"t":488,"v":7.3},{"s":4,"t":492,"v":4.8},{"s":4,"t":496,"v":6.5},{"s":4,"t":500,"v":7.8},{"s":4,"t":504,"v":6.1},{"s":4,"t":508,"v":8.9},{"s":4,"t":512,"v":6.8},{"s":4,"t":516,"v":9.3},{"s":4,"t":520,"v":7.0},{"s":4,"t":526,"v":8.4},{"s":4,"t":532,"v":6.2},{"s":4,"t":538,"v":8.8},{"s":4,"t":544,"v":7.1},{"s":4,"t":550,"v":9.2},{"s":4,"t":556,"v":6.5},{"s":4,"t":562,"v":8.0},{"s":4,"t":568,"v":7.2},{"s":4,"t":574,"v":9.4},{"s":4,"t":580,"v":6.9},{"s":4,"t":586,"v":8.3},{"s":4,"t":592,"v":6.0},{"s":4,"t":598,"v":8.7},{"s":4,"t":604,"v":7.3},{"s":4,"t":610,"v":9.0},{"s":4,"t":616,"v":6.6},{"s":4,"t":620,"v":11.0},{"s":4,"t":624,"v":7.5},{"s":4,"t":630,"v":8.6},{"s":4,"t":636,"v":6.4},{"s":4,"t":642,"v":9.1},{"s":4,"t":648,"v":7.0},{"s":4,"t":654,"v":8.2},{"s":4,"t":660,"v":6.8},{"s":4,"t":666,"v":9.5},{"s":4,"t":672,"v":7.4},{"s":4,"t":678,"v":8.1},{"s":4,"t":684,"v":6.3},{"s":4,"t":690,"v":8.8},{"s":4,"t":696,"v":7.1},{"s":4,"t":700,"v":4.0},{"s":4,"t":704,"v":7.9},{"s":4,"t":710,"v":6.5},{"s":4,"t":716,"v":8.6},{"s":4,"t":722,"v":7.0},{"s":4,"t":728,"v":9.0},{"s":4,"t":734,"v":12.0},{"s":4,"t":738,"v":7.2},{"s":4,"t":744,"v":8.4},{"s":4,"t":750,"v":6.6},{"s":4,"t":756,"v":8.9},{"s":4,"t":762,"v":7.3},{"s":4,"t":768,"v":8.1},{"s":4,"t":774,"v":6.5},{"s":4,"t":780,"v":8.7},{"s":4,"t":786,"v":7.0},{"s":4,"t":792,"v":9.2},{"s":4,"t":798,"v":6.8},{"s":4,"t":804,"v":8.5},{"s":4,"t":808,"v":6.0},
{"s":5,"t":0,"v":3.5},{"s":5,"t":3,"v":8.5},{"s":5,"t":6,"v":4.2},{"s":5,"t":9,"v":9.0},{"s":5,"t":12,"v":5.5},{"s":5,"t":15,"v":8.0},{"s":5,"t":18,"v":3.8},{"s":5,"t":21,"v":7.2},{"s":5,"t":24,"v":4.5},{"s":5,"t":27,"v":8.3},{"s":5,"t":30,"v":5.0},{"s":5,"t":33,"v":6.5},{"s":5,"t":36,"v":3.6},{"s":5,"t":40,"v":4.2},{"s":5,"t":44,"v":3.5},{"s":5,"t":48,"v":5.0},{"s":5,"t":51,"v":8.5},{"s":5,"t":54,"v":12.5},{"s":5,"t":57,"v":9.0},{"s":5,"t":60,"v":13.5},{"s":5,"t":63,"v":12.0},{"s":5,"t":66,"v":15.0},{"s":5,"t":69,"v":12.8},{"s":5,"t":72,"v":14.2},{"s":5,"t":75,"v":12.0},{"s":5,"t":78,"v":13.8},{"s":5,"t":81,"v":15.5},{"s":5,"t":84,"v":13.5},{"s":5,"t":87,"v":16.0},{"s":5,"t":90,"v":17.0},{"s":5,"t":95,"v":16.2},{"s":5,"t":100,"v":17.4},{"s":5,"t":105,"v":16.0},{"s":5,"t":110,"v":17.2},{"s":5,"t":115,"v":15.8},{"s":5,"t":120,"v":17.6},{"s":5,"t":125,"v":15.0},{"s":5,"t":130,"v":16.8},{"s":5,"t":135,"v":17.5},{"s":5,"t":140,"v":16.2},{"s":5,"t":145,"v":17.9},{"s":5,"t":150,"v":16.4},{"s":5,"t":155,"v":17.0},{"s":5,"t":160,"v":15.8},{"s":5,"t":165,"v":17.3},{"s":5,"t":170,"v":16.1},{"s":5,"t":175,"v":17.6},{"s":5,"t":180,"v":16.0},{"s":5,"t":183,"v":14.5},{"s":5,"t":187,"v":16.9},{"s":5,"t":191,"v":20.0},{"s":5,"t":194,"v":16.2},{"s":5,"t":198,"v":17.5},{"s":5,"t":202,"v":15.9},{"s":5,"t":206,"v":17.1},{"s":5,"t":210,"v":16.3},{"s":5,"t":215,"v":17.8},{"s":5,"t":220,"v":16.0},{"s":5,"t":225,"v":17.2},{"s":5,"t":230,"v":15.6},{"s":5,"t":235,"v":16.9},{"s":5,"t":240,"v":16.2},{"s":5,"t":245,"v":17.4},{"s":5,"t":250,"v":15.9},{"s":5,"t":255,"v":17.0},{"s":5,"t":260,"v":16.4},{"s":5,"t":265,"v":17.6},{"s":5,"t":270,"v":15.7},{"s":5,"t":275,"v":16.8},{"s":5,"t":280,"v":16.1},{"s":5,"t":285,"v":17.5},{"s":5,"t":290,"v":15.8},{"s":5,"t":295,"v":18.2},{"s":5,"t":300,"v":16.3},{"s":5,"t":305,"v":17.9},{"s":5,"t":310,"v":15.9},{"s":5,"t":315,"v":17.4},{"s":5,"t":320,"v":16.2},
{"s":6,"t":0,"v":3.6},{"s":6,"t":4,"v":9.5},{"s":6,"t":7,"v":4.5},{"s":6,"t":10,"v":3.4},{"s":6,"t":14,"v":6.0},{"s":6,"t":18,"v":3.3},{"s":6,"t":22,"v":3.7},{"s":6,"t":26,"v":3.2},{"s":6,"t":30,"v":4.4},{"s":6,"t":34,"v":3.4},{"s":6,"t":38,"v":3.2},{"s":6,"t":42,"v":3.6},{"s":6,"t":46,"v":3.1},{"s":6,"t":50,"v":3.5},{"s":6,"t":55,"v":3.3},{"s":6,"t":60,"v":3.6},{"s":6,"t":65,"v":3.2},{"s":6,"t":70,"v":3.4},{"s":6,"t":75,"v":3.1},{"s":6,"t":80,"v":3.5},{"s":6,"t":85,"v":3.3},{"s":6,"t":90,"v":3.6},{"s":6,"t":95,"v":3.2},{"s":6,"t":100,"v":3.4},{"s":6,"t":105,"v":3.1},{"s":6,"t":110,"v":3.5},{"s":6,"t":115,"v":3.3},{"s":6,"t":120,"v":3.6},{"s":6,"t":125,"v":3.2},{"s":6,"t":130,"v":3.4},{"s":6,"t":135,"v":3.3},{"s":6,"t":140,"v":3.5},{"s":6,"t":145,"v":3.2},{"s":6,"t":150,"v":3.4},{"s":6,"t":155,"v":3.3},{"s":6,"t":160,"v":3.5},
{"s":7,"t":0,"v":3.4},{"s":7,"t":2,"v":9.5},{"s":7,"t":4,"v":5.0},{"s":7,"t":6,"v":7.2},{"s":7,"t":8,"v":3.6},{"s":7,"t":10,"v":6.0},{"s":7,"t":12,"v":3.3},{"s":7,"t":15,"v":8.5},{"s":7,"t":18,"v":11.3},{"s":7,"t":20,"v":6.2},{"s":7,"t":22,"v":3.8},{"s":7,"t":25,"v":5.4},{"s":7,"t":28,"v":3.5},{"s":7,"t":31,"v":4.6},{"s":7,"t":34,"v":3.2},{"s":7,"t":37,"v":6.4},{"s":7,"t":40,"v":3.6},{"s":7,"t":43,"v":4.8},{"s":7,"t":46,"v":3.3},{"s":7,"t":49,"v":8.0},{"s":7,"t":52,"v":4.0},{"s":7,"t":55,"v":3.4},{"s":7,"t":58,"v":5.0},{"s":7,"t":61,"v":3.2},{"s":7,"t":64,"v":4.2},{"s":7,"t":67,"v":3.5},{"s":7,"t":70,"v":3.8},{"s":7,"t":73,"v":3.3},{"s":7,"t":76,"v":4.5},{"s":7,"t":79,"v":3.2},{"s":7,"t":82,"v":3.6},{"s":7,"t":85,"v":3.4},{"s":7,"t":88,"v":4.0},{"s":7,"t":91,"v":3.3},{"s":7,"t":94,"v":3.7},{"s":7,"t":97,"v":3.4},{"s":7,"t":100,"v":3.5},
{"s":8,"t":0,"v":3.0},{"s":8,"t":2,"v":9.0},{"s":8,"t":4,"v":14.5},{"s":8,"t":6,"v":10.5},{"s":8,"t":8,"v":13.0},{"s":8,"t":10,"v":11.5},{"s":8,"t":12,"v":14.0},{"s":8,"t":14,"v":12.2},{"s":8,"t":16,"v":13.8},{"s":8,"t":18,"v":12.5},{"s":8,"t":20,"v":14.8},{"s":8,"t":22,"v":15.8},{"s":8,"t":24,"v":14.0},{"s":8,"t":26,"v":16.5},{"s":8,"t":28,"v":15.2},{"s":8,"t":30,"v":17.0},{"s":8,"t":32,"v":15.5},{"s":8,"t":34,"v":16.8},{"s":8,"t":36,"v":14.8},{"s":8,"t":38,"v":17.2},{"s":8,"t":40,"v":20.1},{"s":8,"t":42,"v":15.8},{"s":8,"t":44,"v":17.5},{"s":8,"t":46,"v":15.0},{"s":8,"t":48,"v":17.3},{"s":8,"t":50,"v":16.2},{"s":8,"t":52,"v":18.0},{"s":8,"t":54,"v":15.5},{"s":8,"t":56,"v":17.0},{"s":8,"t":58,"v":16.0},{"s":8,"t":60,"v":20.6},{"s":8,"t":62,"v":16.5},{"s":8,"t":64,"v":17.8},{"s":8,"t":66,"v":15.2},{"s":8,"t":68,"v":17.5},{"s":8,"t":70,"v":16.0},{"s":8,"t":72,"v":18.7},{"s":8,"t":74,"v":15.6},{"s":8,"t":76,"v":17.2},{"s":8,"t":78,"v":16.3},{"s":8,"t":80,"v":17.8},{"s":8,"t":82,"v":15.0},{"s":8,"t":84,"v":17.0},{"s":8,"t":86,"v":15.8},{"s":8,"t":88,"v":17.4},{"s":8,"t":90,"v":14.5},{"s":8,"t":92,"v":16.8},{"s":8,"t":94,"v":15.2},{"s":8,"t":96,"v":17.0},{"s":8,"t":98,"v":14.0},{"s":8,"t":100,"v":16.5},{"s":8,"t":102,"v":13.2},{"s":8,"t":105,"v":15.0}
],
"bb": [
{"s":1,"t":0,"v":16.5},{"s":1,"t":5,"v":17.8},{"s":1,"t":10,"v":16.2},{"s":1,"t":15,"v":17.5},{"s":1,"t":20,"v":16.0},{"s":1,"t":25,"v":17.2},{"s":1,"t":30,"v":15.8},{"s":1,"t":35,"v":17.0},{"s":1,"t":40,"v":15.5},{"s":1,"t":45,"v":16.8},{"s":1,"t":50,"v":15.2},{"s":1,"t":55,"v":16.4},{"s":1,"t":58,"v":13.5},{"s":1,"t":62,"v":15.0},{"s":1,"t":66,"v":12.0},{"s":1,"t":70,"v":14.6},{"s":1,"t":74,"v":13.0},{"s":1,"t":78,"v":15.2},{"s":1,"t":82,"v":14.0},{"s":1,"t":86,"v":13.2},{"s":1,"t":90,"v":11.5},{"s":1,"t":93,"v":13.0},{"s":1,"t":96,"v":10.2},{"s":1,"t":99,"v":11.8},{"s":1,"t":102,"v":9.5},{"s":1,"t":105,"v":10.8},{"s":1,"t":108,"v":9.0},{"s":1,"t":111,"v":10.2},{"s":1,"t":114,"v":8.2},{"s":1,"t":117,"v":7.0},{"s":1,"t":120,"v":5.5},{"s":1,"t":123,"v":4.2},{"s":1,"t":126,"v":5.8},{"s":1,"t":129,"v":7.5},{"s":1,"t":131,"v":9.2},{"s":1,"t":133,"v":6.0},{"s":1,"t":135,"v":4.0},{"s":1,"t":138,"v":3.8},{"s":1,"t":142,"v":4.2},{"s":1,"t":146,"v":3.6},{"s":1,"t":150,"v":3.9},{"s":1,"t":155,"v":3.7},{"s":1,"t":160,"v":4.1},{"s":1,"t":165,"v":3.6},{"s":1,"t":170,"v":3.9},{"s":1,"t":175,"v":3.7},{"s":1,"t":180,"v":4.0},{"s":1,"t":185,"v":3.6},{"s":1,"t":190,"v":3.9},{"s":1,"t":195,"v":3.8},{"s":1,"t":200,"v":4.1},{"s":1,"t":205,"v":3.6},{"s":1,"t":210,"v":3.9},{"s":1,"t":215,"v":3.7},{"s":1,"t":220,"v":4.0},{"s":1,"t":225,"v":3.6},{"s":1,"t":230,"v":3.9},{"s":1,"t":235,"v":3.8},{"s":1,"t":240,"v":3.6},{"s":1,"t":245,"v":4.0},{"s":1,"t":250,"v":3.7},{"s":1,"t":255,"v":3.9},{"s":1,"t":260,"v":3.6},{"s":1,"t":265,"v":4.0},{"s":1,"t":270,"v":3.8},{"s":1,"t":275,"v":3.7},{"s":1,"t":280,"v":4.1},{"s":1,"t":285,"v":3.6},{"s":1,"t":289,"v":6.2},{"s":1,"t":291,"v":3.8},{"s":1,"t":295,"v":3.9},{"s":1,"t":300,"v":3.7},{"s":1,"t":305,"v":4.0},{"s":1,"t":310,"v":3.6},{"s":1,"t":315,"v":3.9},{"s":1,"t":320,"v":4.2},{"s":1,"t":323,"v":7.5},{"s":1,"t":326,"v":8.9},{"s":1,"t":329,"v":8.2},{"s":1,"t":332,"v":8.6},{"s":1,"t":335,"v":7.0},{"s":1,"t":338,"v":5.0},{"s":1,"t":341,"v":3.9},{"s":1,"t":345,"v":3.6},{"s":1,"t":350,"v":4.0},{"s":1,"t":355,"v":3.7},{"s":1,"t":360,"v":3.9},{"s":1,"t":365,"v":3.6},{"s":1,"t":370,"v":4.0},{"s":1,"t":375,"v":3.8},{"s":1,"t":380,"v":3.6},{"s":1,"t":385,"v":4.0},{"s":1,"t":390,"v":3.7},{"s":1,"t":395,"v":3.9},{"s":1,"t":400,"v":3.6},{"s":1,"t":405,"v":4.0},{"s":1,"t":410,"v":3.7},{"s":1,"t":415,"v":3.9},{"s":1,"t":420,"v":3.6},{"s":1,"t":425,"v":4.1},{"s":1,"t":430,"v":3.8},{"s":1,"t":435,"v":3.6},{"s":1,"t":440,"v":4.0},{"s":1,"t":445,"v":3.7},{"s":1,"t":450,"v":3.9},{"s":1,"t":455,"v":3.6},{"s":1,"t":460,"v":4.0},{"s":1,"t":465,"v":3.8},{"s":1,"t":470,"v":3.7},{"s":1,"t":475,"v":4.1},{"s":1,"t":480,"v":3.6},{"s":1,"t":485,"v":3.9},{"s":1,"t":490,"v":3.7},{"s":1,"t":495,"v":4.0},{"s":1,"t":500,"v":3.6},{"s":1,"t":505,"v":3.9},{"s":1,"t":510,"v":3.8},{"s":1,"t":515,"v":4.0},{"s":1,"t":520,"v":3.7},
{"s":2,"t":0,"v":17.5},{"s":2,"t":3,"v":19.8},{"s":2,"t":6,"v":17.2},{"s":2,"t":8,"v":20.2},{"s":2,"t":10,"v":17.8},{"s":2,"t":13,"v":18.6},{"s":2,"t":16,"v":17.0},{"s":2,"t":19,"v":18.9},{"s":2,"t":22,"v":16.5},{"s":2,"t":25,"v":18.2},{"s":2,"t":28,"v":17.4},{"s":2,"t":31,"v":18.8},{"s":2,"t":34,"v":16.9},{"s":2,"t":37,"v":18.5},{"s":2,"t":40,"v":17.6},{"s":2,"t":43,"v":19.2},{"s":2,"t":46,"v":17.1},{"s":2,"t":49,"v":18.4},{"s":2,"t":52,"v":16.8},{"s":2,"t":55,"v":18.7},{"s":2,"t":58,"v":17.3},{"s":2,"t":61,"v":19.0},{"s":2,"t":64,"v":17.5},{"s":2,"t":67,"v":18.3},{"s":2,"t":70,"v":16.6},{"s":2,"t":73,"v":18.8},{"s":2,"t":76,"v":17.2},{"s":2,"t":79,"v":19.1},{"s":2,"t":82,"v":17.8},{"s":2,"t":85,"v":18.5},{"s":2,"t":88,"v":16.4},{"s":2,"t":91,"v":18.0},{"s":2,"t":94,"v":16.9},{"s":2,"t":97,"v":18.6},{"s":2,"t":100,"v":17.4},{"s":2,"t":104,"v":15.8},{"s":2,"t":108,"v":17.9},{"s":2,"t":112,"v":16.5},{"s":2,"t":116,"v":17.7},{"s":2,"t":120,"v":15.9},{"s":2,"t":124,"v":17.2},{"s":2,"t":128,"v":15.6},{"s":2,"t":130,"v":16.2},
{"s":3,"t":0,"v":17.0},{"s":3,"t":5,"v":16.2},{"s":3,"t":10,"v":17.6},{"s":3,"t":15,"v":16.5},{"s":3,"t":20,"v":17.8},{"s":3,"t":25,"v":16.0},{"s":3,"t":30,"v":17.3},{"s":3,"t":35,"v":15.8},{"s":3,"t":40,"v":16.9},{"s":3,"t":45,"v":15.2},{"s":3,"t":50,"v":16.5},{"s":3,"t":55,"v":14.0},{"s":3,"t":60,"v":15.8},{"s":3,"t":63,"v":11.0},{"s":3,"t":66,"v":13.5},{"s":3,"t":69,"v":9.5},{"s":3,"t":72,"v":12.8},{"s":3,"t":75,"v":10.0},{"s":3,"t":78,"v":14.5},{"s":3,"t":81,"v":11.8},{"s":3,"t":84,"v":16.0},{"s":3,"t":87,"v":13.2},{"s":3,"t":90,"v":16.8},{"s":3,"t":95,"v":15.6},{"s":3,"t":100,"v":17.2},{"s":3,"t":105,"v":16.0},{"s":3,"t":110,"v":17.4},{"s":3,"t":115,"v":16.3},{"s":3,"t":120,"v":17.8},{"s":3,"t":125,"v":16.5},{"s":3,"t":130,"v":17.0},{"s":3,"t":135,"v":15.9},{"s":3,"t":140,"v":17.2},{"s":3,"t":145,"v":16.2},{"s":3,"t":150,"v":16.8},{"s":3,"t":155,"v":15.5},{"s":3,"t":160,"v":16.4},{"s":3,"t":165,"v":15.2},{"s":3,"t":170,"v":16.0},{"s":3,"t":175,"v":14.8},{"s":3,"t":180,"v":15.9},{"s":3,"t":185,"v":13.6},{"s":3,"t":190,"v":12.2},{"s":3,"t":194,"v":15.1},{"s":3,"t":198,"v":14.6},{"s":3,"t":202,"v":15.8},{"s":3,"t":206,"v":14.2},{"s":3,"t":210,"v":15.5},{"s":3,"t":214,"v":13.8},{"s":3,"t":218,"v":12.6},{"s":3,"t":222,"v":11.5},{"s":3,"t":226,"v":13.9},{"s":3,"t":230,"v":15.2},{"s":3,"t":235,"v":14.5},{"s":3,"t":240,"v":15.8},{"s":3,"t":245,"v":14.8},{"s":3,"t":250,"v":15.6},{"s":3,"t":255,"v":14.3},{"s":3,"t":260,"v":15.4},{"s":3,"t":265,"v":14.9},{"s":3,"t":270,"v":15.7},{"s":3,"t":275,"v":14.0},{"s":3,"t":280,"v":12.8},{"s":3,"t":284,"v":15.0},{"s":3,"t":287,"v":11.8},{"s":3,"t":290,"v":14.5},
{"s":4,"t":0,"v":17.8},{"s":4,"t":6,"v":16.3},{"s":4,"t":12,"v":18.0},{"s":4,"t":18,"v":15.5},{"s":4,"t":24,"v":17.2},{"s":4,"t":30,"v":16.0},{"s":4,"t":36,"v":17.5},{"s":4,"t":42,"v":15.8},{"s":4,"t":48,"v":17.0},{"s":4,"t":54,"v":16.4},{"s":4,"t":60,"v":17.8},{"s":4,"t":66,"v":15.9},{"s":4,"t":72,"v":17.3},{"s":4,"t":78,"v":16.2},{"s":4,"t":84,"v":17.6},{"s":4,"t":90,"v":15.4},{"s":4,"t":96,"v":17.1},{"s":4,"t":102,"v":16.0},{"s":4,"t":108,"v":17.5},{"s":4,"t":114,"v":15.1},{"s":4,"t":120,"v":17.2},{"s":4,"t":126,"v":16.4},{"s":4,"t":132,"v":17.6},{"s":4,"t":138,"v":13.5},{"s":4,"t":142,"v":16.8},{"s":4,"t":146,"v":12.5},{"s":4,"t":150,"v":16.5},{"s":4,"t":156,"v":17.4},{"s":4,"t":162,"v":15.8},{"s":4,"t":168,"v":17.2},{"s":4,"t":174,"v":16.0},{"s":4,"t":180,"v":17.6},{"s":4,"t":186,"v":15.2},{"s":4,"t":192,"v":17.0},{"s":4,"t":198,"v":18.4},{"s":4,"t":204,"v":16.1},{"s":4,"t":210,"v":17.3},{"s":4,"t":216,"v":15.0},{"s":4,"t":222,"v":17.4},{"s":4,"t":228,"v":16.2},{"s":4,"t":234,"v":17.8},{"s":4,"t":240,"v":15.6},{"s":4,"t":246,"v":17.0},{"s":4,"t":252,"v":16.3},{"s":4,"t":258,"v":17.7},{"s":4,"t":264,"v":14.2},{"s":4,"t":270,"v":17.0},{"s":4,"t":274,"v":12.0},{"s":4,"t":278,"v":11.0},{"s":4,"t":281,"v":20.5},{"s":4,"t":284,"v":16.4},{"s":4,"t":290,"v":17.5},{"s":4,"t":296,"v":15.3},{"s":4,"t":302,"v":17.2},{"s":4,"t":308,"v":16.0},{"s":4,"t":314,"v":17.8},{"s":4,"t":320,"v":15.8},{"s":4,"t":326,"v":17.1},{"s":4,"t":332,"v":16.4},{"s":4,"t":338,"v":17.9},{"s":4,"t":344,"v":16.0},{"s":4,"t":350,"v":17.3},{"s":4,"t":356,"v":15.5},{"s":4,"t":362,"v":17.0},{"s":4,"t":368,"v":16.2},{"s":4,"t":374,"v":17.6},{"s":4,"t":380,"v":15.8},{"s":4,"t":386,"v":16.9},{"s":4,"t":392,"v":14.0},{"s":4,"t":396,"v":17.2},{"s":4,"t":400,"v":12.0},{"s":4,"t":404,"v":16.6},{"s":4,"t":410,"v":17.8},{"s":4,"t":416,"v":15.9},{"s":4,"t":422,"v":18.5},{"s":4,"t":428,"v":16.2},{"s":4,"t":434,"v":17.4},{"s":4,"t":440,"v":14.5},{"s":4,"t":446,"v":18.0},{"s":4,"t":452,"v":16.3},{"s":4,"t":458,"v":19.0},{"s":4,"t":461,"v":20.8},{"s":4,"t":464,"v":17.2},{"s":4,"t":470,"v":16.5},{"s":4,"t":476,"v":18.0},{"s":4,"t":482,"v":15.8},{"s":4,"t":488,"v":17.6},{"s":4,"t":494,"v":16.0},{"s":4,"t":500,"v":17.2},{"s":4,"t":506,"v":15.2},{"s":4,"t":512,"v":16.8},{"s":4,"t":518,"v":15.5},{"s":4,"t":524,"v":17.0},{"s":4,"t":530,"v":14.8},{"s":4,"t":536,"v":16.6},{"s":4,"t":542,"v":14.2},{"s":4,"t":548,"v":16.0},{"s":4,"t":554,"v":13.5},{"s":4,"t":560,"v":15.6},{"s":4,"t":566,"v":13.0},{"s":4,"t":572,"v":15.2},{"s":4,"t":578,"v":12.4},{"s":4,"t":584,"v":14.8},{"s":4,"t":590,"v":9.2},{"s":4,"t":594,"v":13.8},{"s":4,"t":600,"v":15.6},{"s":4,"t":606,"v":12.8},{"s":4,"t":612,"v":14.9},{"s":4,"t":618,"v":13.1},{"s":4,"t":624,"v":15.3},{"s":4,"t":630,"v":12.5},{"s":4,"t":636,"v":14.6},{"s":4,"t":642,"v":11.8},{"s":4,"t":648,"v":15.0},{"s":4,"t":654,"v":13.2},{"s":4,"t":660,"v":14.7},{"s":4,"t":666,"v":12.0},{"s":4,"t":672,"v":15.4},{"s":4,"t":678,"v":13.6},{"s":4,"t":684,"v":14.9},{"s":4,"t":690,"v":12.3},{"s":4,"t":696,"v":15.2},{"s":4,"t":702,"v":13.8},{"s":4,"t":708,"v":11.6},{"s":4,"t":714,"v":14.5},{"s":4,"t":720,"v":13.0},{"s":4,"t":726,"v":15.1},{"s":4,"t":732,"v":12.6},{"s":4,"t":738,"v":9.5},{"s":4,"t":742,"v":14.2},{"s":4,"t":748,"v":13.4},{"s":4,"t":754,"v":15.0},{"s":4,"t":760,"v":13.6},{"s":4,"t":766,"v":14.8},{"s":4,"t":772,"v":16.5},{"s":4,"t":775,"v":18.2},{"s":4,"t":778,"v":15.8},{"s":4,"t":782,"v":14.0},{"s":4,"t":786,"v":15.3},{"s":4,"t":790,"v":12.8},{"s":4,"t":794,"v":14.6},{"s":4,"t":798,"v":17.5},{"s":4,"t":802,"v":13.2},{"s":4,"t":805,"v":11.5},{"s":4,"t":808,"v":14.0},
{"s":5,"t":0,"v":16.0},{"s":5,"t":4,"v":17.5},{"s":5,"t":8,"v":15.2},{"s":5,"t":12,"v":17.0},{"s":5,"t":16,"v":14.8},{"s":5,"t":20,"v":16.5},{"s":5,"t":24,"v":13.5},{"s":5,"t":28,"v":15.8},{"s":5,"t":32,"v":12.2},{"s":5,"t":36,"v":14.5},{"s":5,"t":40,"v":10.5},{"s":5,"t":44,"v":13.0},{"s":5,"t":48,"v":8.5},{"s":5,"t":52,"v":11.0},{"s":5,"t":55,"v":6.5},{"s":5,"t":58,"v":8.8},{"s":5,"t":61,"v":5.2},{"s":5,"t":64,"v":7.5},{"s":5,"t":67,"v":4.5},{"s":5,"t":70,"v":6.8},{"s":5,"t":73,"v":4.2},{"s":5,"t":76,"v":8.2},{"s":5,"t":79,"v":4.8},{"s":5,"t":82,"v":7.0},{"s":5,"t":85,"v":4.3},{"s":5,"t":88,"v":6.2},{"s":5,"t":91,"v":4.1},{"s":5,"t":94,"v":5.5},{"s":5,"t":97,"v":4.0},{"s":5,"t":100,"v":4.6},{"s":5,"t":104,"v":3.8},{"s":5,"t":108,"v":4.2},{"s":5,"t":112,"v":3.7},{"s":5,"t":116,"v":4.0},{"s":5,"t":120,"v":3.6},{"s":5,"t":124,"v":4.1},{"s":5,"t":128,"v":3.7},{"s":5,"t":132,"v":3.9},{"s":5,"t":136,"v":3.5},{"s":5,"t":140,"v":4.0},{"s":5,"t":144,"v":3.7},{"s":5,"t":148,"v":4.2},{"s":5,"t":152,"v":3.6},{"s":5,"t":156,"v":3.9},{"s":5,"t":160,"v":6.9},{"s":5,"t":162,"v":3.8},{"s":5,"t":166,"v":4.0},{"s":5,"t":170,"v":3.6},{"s":5,"t":174,"v":4.1},{"s":5,"t":178,"v":3.7},{"s":5,"t":182,"v":3.9},{"s":5,"t":186,"v":3.5},{"s":5,"t":190,"v":4.0},{"s":5,"t":195,"v":3.7},{"s":5,"t":200,"v":4.1},{"s":5,"t":205,"v":3.6},{"s":5,"t":210,"v":3.9},{"s":5,"t":215,"v":3.7},{"s":5,"t":220,"v":4.0},{"s":5,"t":225,"v":3.6},{"s":5,"t":230,"v":3.9},{"s":5,"t":235,"v":3.7},{"s":5,"t":240,"v":4.1},{"s":5,"t":245,"v":3.6},{"s":5,"t":250,"v":3.9},{"s":5,"t":255,"v":3.7},{"s":5,"t":260,"v":4.2},{"s":5,"t":263,"v":9.0},{"s":5,"t":265,"v":4.0},{"s":5,"t":270,"v":3.7},{"s":5,"t":275,"v":3.9},{"s":5,"t":280,"v":3.6},{"s":5,"t":285,"v":4.0},{"s":5,"t":290,"v":3.7},{"s":5,"t":295,"v":3.9},{"s":5,"t":300,"v":3.6},{"s":5,"t":305,"v":4.1},{"s":5,"t":310,"v":3.7},{"s":5,"t":315,"v":4.0},{"s":5,"t":320,"v":3.8},
{"s":6,"t":0,"v":16.2},{"s":6,"t":4,"v":17.4},{"s":6,"t":8,"v":15.8},{"s":6,"t":12,"v":17.0},{"s":6,"t":16,"v":15.5},{"s":6,"t":20,"v":17.2},{"s":6,"t":24,"v":16.0},{"s":6,"t":28,"v":17.5},{"s":6,"t":32,"v":15.6},{"s":6,"t":36,"v":16.8},{"s":6,"t":40,"v":15.3},{"s":6,"t":44,"v":17.1},{"s":6,"t":48,"v":16.2},{"s":6,"t":52,"v":17.6},{"s":6,"t":56,"v":15.9},{"s":6,"t":60,"v":17.3},{"s":6,"t":64,"v":16.5},{"s":6,"t":68,"v":18.2},{"s":6,"t":71,"v":16.8},{"s":6,"t":74,"v":20.5},{"s":6,"t":77,"v":17.0},{"s":6,"t":80,"v":18.1},{"s":6,"t":84,"v":16.4},{"s":6,"t":88,"v":17.7},{"s":6,"t":92,"v":16.0},{"s":6,"t":96,"v":17.5},{"s":6,"t":100,"v":16.3},{"s":6,"t":104,"v":17.8},{"s":6,"t":108,"v":16.1},{"s":6,"t":112,"v":17.4},{"s":6,"t":116,"v":15.8},{"s":6,"t":120,"v":17.0},{"s":6,"t":124,"v":16.4},{"s":6,"t":128,"v":17.6},{"s":6,"t":132,"v":15.9},{"s":6,"t":136,"v":17.2},{"s":6,"t":140,"v":16.0},{"s":6,"t":144,"v":16.9},{"s":6,"t":148,"v":15.6},{"s":6,"t":152,"v":16.8},{"s":6,"t":156,"v":16.2},{"s":6,"t":158,"v":16.5},
{"s":7,"t":0,"v":15.0},{"s":7,"t":3,"v":17.8},{"s":7,"t":6,"v":14.2},{"s":7,"t":9,"v":18.3},{"s":7,"t":12,"v":15.5},{"s":7,"t":15,"v":17.6},{"s":7,"t":18,"v":13.8},{"s":7,"t":21,"v":16.9},{"s":7,"t":24,"v":11.0},{"s":7,"t":27,"v":17.2},{"s":7,"t":30,"v":14.0},{"s":7,"t":33,"v":18.0},{"s":7,"t":36,"v":15.2},{"s":7,"t":39,"v":17.5},{"s":7,"t":42,"v":10.2},{"s":7,"t":45,"v":16.8},{"s":7,"t":48,"v":15.0},{"s":7,"t":51,"v":18.2},{"s":7,"t":54,"v":14.6},{"s":7,"t":57,"v":17.0},{"s":7,"t":60,"v":11.5},{"s":7,"t":63,"v":16.5},{"s":7,"t":66,"v":15.4},{"s":7,"t":69,"v":18.5},{"s":7,"t":72,"v":16.0},{"s":7,"t":75,"v":17.8},{"s":7,"t":78,"v":15.3},{"s":7,"t":81,"v":17.2},{"s":7,"t":84,"v":14.8},{"s":7,"t":87,"v":16.6},{"s":7,"t":90,"v":15.6},{"s":7,"t":93,"v":17.4},{"s":7,"t":96,"v":16.0},{"s":7,"t":100,"v":17.0},
{"s":8,"t":0,"v":17.8},{"s":8,"t":2,"v":12.5},{"s":8,"t":4,"v":16.0},{"s":8,"t":6,"v":10.8},{"s":8,"t":8,"v":14.2},{"s":8,"t":10,"v":9.9},{"s":8,"t":12,"v":12.8},{"s":8,"t":14,"v":9.2},{"s":8,"t":16,"v":11.5},{"s":8,"t":18,"v":8.6},{"s":8,"t":20,"v":10.2},{"s":8,"t":23,"v":7.4},{"s":8,"t":26,"v":9.5},{"s":8,"t":29,"v":6.8},{"s":8,"t":32,"v":8.2},{"s":8,"t":35,"v":6.0},{"s":8,"t":37,"v":4.2},{"s":8,"t":40,"v":7.1},{"s":8,"t":43,"v":5.8},{"s":8,"t":46,"v":7.6},{"s":8,"t":49,"v":5.2},{"s":8,"t":52,"v":6.4},{"s":8,"t":55,"v":5.0},{"s":8,"t":58,"v":6.5},{"s":8,"t":61,"v":5.4},{"s":8,"t":64,"v":6.2},{"s":8,"t":67,"v":4.9},{"s":8,"t":70,"v":6.6},{"s":8,"t":73,"v":5.3},{"s":8,"t":76,"v":6.0},{"s":8,"t":79,"v":5.1},{"s":8,"t":82,"v":6.4},{"s":8,"t":85,"v":5.2},{"s":8,"t":88,"v":5.9},{"s":8,"t":91,"v":4.6},{"s":8,"t":94,"v":5.8},{"s":8,"t":97,"v":4.4},{"s":8,"t":100,"v":4.9},{"s":8,"t":103,"v":3.8}
],
"ct": [
{"s":1,"t":0,"v":4.5},{"s":1,"t":2,"v":6.0},{"s":1,"t":4,"v":17.5},{"s":1,"t":5,"v":11.0},{"s":1,"t":6,"v":16.0},{"s":1,"t":8,"v":5.5},{"s":1,"t":10,"v":4.2},{"s":1,"t":13,"v":3.6},{"s":1,"t":16,"v":4.0},{"s":1,"t":19,"v":3.4},{"s":1,"t":22,"v":3.8},{"s":1,"t":25,"v":3.5},{"s":1,"t":28,"v":4.1},{"s":1,"t":31,"v":3.4},{"s":1,"t":34,"v":3.8},{"s":1,"t":37,"v":3.5},{"s":1,"t":40,"v":4.0},{"s":1,"t":43,"v":3.3},{"s":1,"t":46,"v":3.9},{"s":1,"t":49,"v":3.6},{"s":1,"t":52,"v":13.6},{"s":1,"t":54,"v":4.0},{"s":1,"t":57,"v":3.5},{"s":1,"t":60,"v":8.5},{"s":1,"t":62,"v":3.8},{"s":1,"t":64,"v":10.0},{"s":1,"t":66,"v":6.5},{"s":1,"t":67,"v":15.0},{"s":1,"t":69,"v":7.2},{"s":1,"t":71,"v":9.8},{"s":1,"t":73,"v":4.5},{"s":1,"t":75,"v":7.8},{"s":1,"t":77,"v":3.9},{"s":1,"t":80,"v":4.4},{"s":1,"t":83,"v":5.2},{"s":1,"t":85,"v":10.5},{"s":1,"t":86,"v":18.0},{"s":1,"t":88,"v":11.2},{"s":1,"t":90,"v":9.8},{"s":1,"t":92,"v":13.0},{"s":1,"t":94,"v":10.6},{"s":1,"t":96,"v":5.0},{"s":1,"t":98,"v":4.0},{"s":1,"t":100,"v":6.5},{"s":1,"t":102,"v":8.8},{"s":1,"t":104,"v":10.2},{"s":1,"t":106,"v":7.4},{"s":1,"t":108,"v":9.6},{"s":1,"t":110,"v":11.0},{"s":1,"t":112,"v":8.5},{"s":1,"t":114,"v":10.8},{"s":1,"t":116,"v":12.0},{"s":1,"t":118,"v":9.5},{"s":1,"t":120,"v":7.5},{"s":1,"t":122,"v":11.2},{"s":1,"t":124,"v":12.5},{"s":1,"t":127,"v":10.4},{"s":1,"t":130,"v":11.8},{"s":1,"t":133,"v":10.2},{"s":1,"t":136,"v":12.4},{"s":1,"t":139,"v":10.6},{"s":1,"t":142,"v":11.5},{"s":1,"t":145,"v":9.8},{"s":1,"t":147,"v":6.8},{"s":1,"t":149,"v":11.0},{"s":1,"t":152,"v":12.2},{"s":1,"t":155,"v":10.4},{"s":1,"t":158,"v":11.6},{"s":1,"t":161,"v":10.0},{"s":1,"t":164,"v":12.3},{"s":1,"t":167,"v":10.5},{"s":1,"t":170,"v":12.0},{"s":1,"t":173,"v":13.6},{"s":1,"t":176,"v":11.0},{"s":1,"t":179,"v":9.5},{"s":1,"t":182,"v":11.8},{"s":1,"t":185,"v":10.2},{"s":1,"t":188,"v":12.2},{"s":1,"t":191,"v":10.6},{"s":1,"t":194,"v":11.5},{"s":1,"t":197,"v":9.8},{"s":1,"t":200,"v":12.0},{"s":1,"t":203,"v":10.4},{"s":1,"t":206,"v":11.4},{"s":1,"t":209,"v":10.0},{"s":1,"t":212,"v":12.1},{"s":1,"t":215,"v":10.6},{"s":1,"t":218,"v":11.8},{"s":1,"t":221,"v":9.9},{"s":1,"t":224,"v":11.5},{"s":1,"t":227,"v":10.3},{"s":1,"t":230,"v":12.4},{"s":1,"t":233,"v":10.6},{"s":1,"t":236,"v":11.6},{"s":1,"t":239,"v":9.6},{"s":1,"t":242,"v":12.0},{"s":1,"t":245,"v":13.4},{"s":1,"t":248,"v":10.8},{"s":1,"t":251,"v":11.9},{"s":1,"t":254,"v":10.2},{"s":1,"t":257,"v":12.6},{"s":1,"t":260,"v":10.5},{"s":1,"t":263,"v":11.5},{"s":1,"t":266,"v":9.6},{"s":1,"t":269,"v":12.0},{"s":1,"t":272,"v":15.7},{"s":1,"t":274,"v":10.4},{"s":1,"t":277,"v":11.8},{"s":1,"t":280,"v":10.0},{"s":1,"t":283,"v":12.2},{"s":1,"t":286,"v":9.4},{"s":1,"t":289,"v":11.3},{"s":1,"t":292,"v":10.1},{"s":1,"t":295,"v":7.0},{"s":1,"t":297,"v":11.0},{"s":1,"t":300,"v":9.8},{"s":1,"t":303,"v":11.2},{"s":1,"t":306,"v":9.5},{"s":1,"t":309,"v":10.6},{"s":1,"t":312,"v":8.8},{"s":1,"t":315,"v":12.6},{"s":1,"t":318,"v":9.2},{"s":1,"t":321,"v":10.4},{"s":1,"t":324,"v":7.8},{"s":1,"t":326,"v":4.0},{"s":1,"t":328,"v":9.5},{"s":1,"t":331,"v":8.2},{"s":1,"t":334,"v":10.0},{"s":1,"t":336,"v":6.0},{"s":1,"t":338,"v":3.2},{"s":1,"t":340,"v":5.5},{"s":1,"t":342,"v":9.8},{"s":1,"t":345,"v":12.2},{"s":1,"t":348,"v":10.4},{"s":1,"t":351,"v":11.6},{"s":1,"t":354,"v":9.8},{"s":1,"t":357,"v":12.5},{"s":1,"t":360,"v":10.6},{"s":1,"t":363,"v":11.4},{"s":1,"t":366,"v":10.0},{"s":1,"t":369,"v":12.0},{"s":1,"t":372,"v":10.4},{"s":1,"t":375,"v":11.5},{"s":1,"t":378,"v":9.9},{"s":1,"t":381,"v":11.8},{"s":1,"t":384,"v":10.6},
{"s":2,"t":0,"v":4.5},{"s":2,"t":2,"v":10.2},{"s":2,"t":4,"v":3.8},{"s":2,"t":6,"v":7.5},{"s":2,"t":8,"v":11.0},{"s":2,"t":10,"v":4.2},{"s":2,"t":12,"v":3.6},{"s":2,"t":14,"v":6.0},{"s":2,"t":16,"v":3.8},{"s":2,"t":18,"v":8.5},{"s":2,"t":20,"v":4.0},{"s":2,"t":22,"v":3.5},{"s":2,"t":24,"v":9.0},{"s":2,"t":26,"v":4.2},{"s":2,"t":28,"v":3.7},{"s":2,"t":30,"v":6.8},{"s":2,"t":32,"v":3.9},{"s":2,"t":33,"v":13.8},{"s":2,"t":35,"v":4.1},{"s":2,"t":37,"v":8.0},{"s":2,"t":39,"v":3.6},{"s":2,"t":41,"v":12.0},{"s":2,"t":43,"v":4.0},{"s":2,"t":45,"v":5.5},{"s":2,"t":47,"v":3.8},{"s":2,"t":49,"v":7.0},{"s":2,"t":51,"v":4.2},{"s":2,"t":53,"v":3.7},{"s":2,"t":55,"v":8.5},{"s":2,"t":57,"v":4.0},{"s":2,"t":59,"v":3.6},{"s":2,"t":61,"v":6.2},{"s":2,"t":63,"v":4.3},{"s":2,"t":65,"v":3.8},{"s":2,"t":67,"v":5.5},{"s":2,"t":69,"v":4.1},{"s":2,"t":71,"v":3.7},{"s":2,"t":73,"v":7.5},{"s":2,"t":75,"v":4.2},{"s":2,"t":77,"v":3.8},{"s":2,"t":79,"v":4.6},{"s":2,"t":81,"v":4.0},{"s":2,"t":83,"v":6.0},{"s":2,"t":85,"v":3.9},{"s":2,"t":87,"v":4.4},{"s":2,"t":89,"v":3.7},{"s":2,"t":91,"v":5.0},{"s":2,"t":93,"v":4.2},{"s":2,"t":95,"v":6.0},{"s":2,"t":97,"v":8.5},{"s":2,"t":99,"v":5.5},{"s":2,"t":101,"v":10.0},{"s":2,"t":103,"v":7.5},{"s":2,"t":105,"v":11.5},{"s":2,"t":107,"v":9.0},{"s":2,"t":109,"v":12.8},{"s":2,"t":111,"v":10.2},{"s":2,"t":113,"v":13.5},{"s":2,"t":115,"v":11.0},{"s":2,"t":117,"v":14.2},{"s":2,"t":119,"v":12.0},{"s":2,"t":121,"v":15.5},{"s":2,"t":123,"v":13.2},{"s":2,"t":125,"v":18.8},{"s":2,"t":127,"v":14.0},{"s":2,"t":129,"v":16.5},{"s":2,"t":131,"v":13.5},{"s":2,"t":133,"v":17.2},{"s":2,"t":135,"v":14.2},{"s":2,"t":137,"v":16.0},{"s":2,"t":139,"v":13.8},{"s":2,"t":141,"v":19.0},{"s":2,"t":143,"v":15.0},{"s":2,"t":145,"v":16.8},{"s":2,"t":146,"v":18.3},{"s":2,"t":148,"v":14.5},{"s":2,"t":150,"v":16.0},{"s":2,"t":151,"v":12.0},{"s":2,"t":152,"v":4.2},{"s":2,"t":153,"v":6.5},{"s":2,"t":155,"v":4.0},{"s":2,"t":158,"v":4.5},{"s":2,"t":161,"v":3.6},{"s":2,"t":164,"v":4.3},{"s":2,"t":167,"v":3.8},{"s":2,"t":170,"v":4.6},{"s":2,"t":173,"v":3.7},{"s":2,"t":176,"v":4.4},{"s":2,"t":179,"v":3.9},{"s":2,"t":182,"v":5.0},{"s":2,"t":185,"v":3.6},{"s":2,"t":188,"v":4.5},{"s":2,"t":191,"v":3.8},{"s":2,"t":194,"v":4.3},{"s":2,"t":197,"v":3.5},{"s":2,"t":199,"v":4.4},{"s":2,"t":200,"v":15.0},{"s":2,"t":202,"v":18.5},{"s":2,"t":204,"v":12.5},{"s":2,"t":206,"v":16.0},{"s":2,"t":208,"v":11.0},{"s":2,"t":210,"v":14.5},{"s":2,"t":211,"v":4.5},{"s":2,"t":212,"v":3.8},{"s":2,"t":213,"v":19.0},{"s":2,"t":214,"v":4.2},{"s":2,"t":216,"v":15.0},{"s":2,"t":218,"v":11.5},{"s":2,"t":220,"v":17.5},{"s":2,"t":222,"v":10.5},{"s":2,"t":224,"v":13.5},{"s":2,"t":226,"v":8.5},{"s":2,"t":228,"v":9.5}
],
"cb": [
{"s":1,"t":0,"v":14.0},{"s":1,"t":2,"v":11.5},{"s":1,"t":4,"v":15.2},{"s":1,"t":5,"v":9.0},{"s":1,"t":7,"v":13.8},{"s":1,"t":9,"v":11.0},{"s":1,"t":11,"v":15.5},{"s":1,"t":13,"v":12.6},{"s":1,"t":15,"v":16.2},{"s":1,"t":17,"v":13.5},{"s":1,"t":19,"v":16.8},{"s":1,"t":21,"v":14.4},{"s":1,"t":23,"v":17.2},{"s":1,"t":25,"v":15.0},{"s":1,"t":27,"v":18.2},{"s":1,"t":29,"v":14.2},{"s":1,"t":31,"v":16.5},{"s":1,"t":33,"v":13.8},{"s":1,"t":35,"v":16.0},{"s":1,"t":37,"v":14.5},{"s":1,"t":39,"v":17.0},{"s":1,"t":41,"v":15.2},{"s":1,"t":43,"v":16.6},{"s":1,"t":45,"v":18.4},{"s":1,"t":47,"v":15.5},{"s":1,"t":49,"v":17.2},{"s":1,"t":51,"v":14.8},{"s":1,"t":53,"v":16.9},{"s":1,"t":55,"v":7.0},{"s":1,"t":56,"v":15.0},{"s":1,"t":58,"v":17.0},{"s":1,"t":60,"v":15.2},{"s":1,"t":62,"v":16.8},{"s":1,"t":64,"v":14.6},{"s":1,"t":66,"v":17.3},{"s":1,"t":68,"v":15.0},{"s":1,"t":70,"v":13.0},{"s":1,"t":71,"v":9.5},{"s":1,"t":73,"v":6.5},{"s":1,"t":75,"v":4.4},{"s":1,"t":77,"v":8.0},{"s":1,"t":79,"v":5.5},{"s":1,"t":81,"v":9.8},{"s":1,"t":83,"v":7.2},{"s":1,"t":85,"v":4.5},{"s":1,"t":87,"v":6.0},{"s":1,"t":88,"v":3.8},{"s":1,"t":90,"v":5.0},{"s":1,"t":92,"v":8.5},{"s":1,"t":94,"v":6.0},{"s":1,"t":96,"v":9.0},{"s":1,"t":97,"v":10.5},{"s":1,"t":99,"v":6.5},{"s":1,"t":101,"v":8.2},{"s":1,"t":103,"v":5.0},{"s":1,"t":105,"v":3.9},{"s":1,"t":108,"v":3.7},{"s":1,"t":111,"v":4.0},{"s":1,"t":114,"v":3.8},{"s":1,"t":117,"v":4.1},{"s":1,"t":120,"v":3.6},{"s":1,"t":123,"v":3.9},{"s":1,"t":126,"v":4.2},{"s":1,"t":129,"v":3.7},{"s":1,"t":132,"v":4.0},{"s":1,"t":135,"v":3.8},{"s":1,"t":138,"v":4.4},{"s":1,"t":141,"v":3.7},{"s":1,"t":144,"v":4.0},{"s":1,"t":147,"v":3.8},{"s":1,"t":150,"v":4.3},{"s":1,"t":153,"v":3.7},{"s":1,"t":156,"v":4.1},{"s":1,"t":159,"v":5.0},{"s":1,"t":161,"v":3.8},{"s":1,"t":163,"v":8.4},{"s":1,"t":165,"v":4.0},{"s":1,"t":168,"v":3.7},{"s":1,"t":171,"v":4.1},{"s":1,"t":174,"v":8.4},{"s":1,"t":176,"v":3.9},{"s":1,"t":179,"v":4.2},{"s":1,"t":182,"v":3.7},{"s":1,"t":185,"v":4.0},{"s":1,"t":188,"v":5.2},{"s":1,"t":190,"v":3.8},{"s":1,"t":193,"v":4.1},{"s":1,"t":196,"v":3.7},{"s":1,"t":199,"v":4.3},{"s":1,"t":202,"v":3.8},{"s":1,"t":205,"v":4.0},{"s":1,"t":208,"v":3.6},{"s":1,"t":211,"v":4.1},{"s":1,"t":214,"v":3.8},{"s":1,"t":217,"v":4.4},{"s":1,"t":220,"v":3.9},{"s":1,"t":223,"v":4.1},{"s":1,"t":226,"v":3.7},{"s":1,"t":229,"v":4.0},{"s":1,"t":232,"v":3.5},{"s":1,"t":235,"v":4.1},{"s":1,"t":238,"v":3.8},{"s":1,"t":240,"v":4.4},{"s":1,"t":242,"v":7.5},{"s":1,"t":244,"v":3.9},{"s":1,"t":247,"v":3.6},{"s":1,"t":250,"v":4.1},{"s":1,"t":253,"v":3.8},{"s":1,"t":256,"v":5.4},{"s":1,"t":258,"v":3.7},{"s":1,"t":261,"v":4.0},{"s":1,"t":264,"v":3.6},{"s":1,"t":267,"v":4.2},{"s":1,"t":270,"v":3.8},{"s":1,"t":272,"v":5.6},{"s":1,"t":274,"v":3.9},{"s":1,"t":277,"v":4.1},{"s":1,"t":280,"v":3.7},{"s":1,"t":283,"v":4.0},{"s":1,"t":286,"v":3.8},{"s":1,"t":289,"v":4.2},{"s":1,"t":292,"v":3.7},{"s":1,"t":294,"v":4.0},{"s":1,"t":295,"v":9.4},{"s":1,"t":297,"v":8.5},{"s":1,"t":299,"v":5.0},{"s":1,"t":301,"v":4.2},{"s":1,"t":304,"v":3.9},{"s":1,"t":307,"v":5.5},{"s":1,"t":309,"v":8.2},{"s":1,"t":311,"v":4.5},{"s":1,"t":313,"v":8.0},{"s":1,"t":315,"v":4.2},{"s":1,"t":317,"v":9.5},{"s":1,"t":319,"v":10.8},{"s":1,"t":321,"v":9.2},{"s":1,"t":323,"v":10.5},{"s":1,"t":325,"v":8.8},{"s":1,"t":327,"v":11.0},{"s":1,"t":329,"v":9.5},{"s":1,"t":331,"v":11.3},{"s":1,"t":333,"v":9.8},{"s":1,"t":335,"v":10.6},{"s":1,"t":337,"v":9.0},{"s":1,"t":339,"v":11.2},{"s":1,"t":341,"v":7.0},{"s":1,"t":342,"v":3.9},{"s":1,"t":345,"v":3.6},{"s":1,"t":348,"v":4.1},{"s":1,"t":351,"v":3.8},{"s":1,"t":354,"v":4.3},{"s":1,"t":357,"v":3.7},{"s":1,"t":360,"v":4.0},{"s":1,"t":363,"v":4.8},{"s":1,"t":366,"v":3.8},{"s":1,"t":369,"v":4.1},{"s":1,"t":372,"v":3.6},{"s":1,"t":375,"v":4.4},{"s":1,"t":378,"v":3.8},{"s":1,"t":381,"v":4.0},{"s":1,"t":384,"v":3.7},
{"s":2,"t":0,"v":18.5},{"s":2,"t":1,"v":20.3},{"s":2,"t":3,"v":17.0},{"s":2,"t":5,"v":19.0},{"s":2,"t":7,"v":16.2},{"s":2,"t":9,"v":17.8},{"s":2,"t":11,"v":15.5},{"s":2,"t":13,"v":18.2},{"s":2,"t":15,"v":15.0},{"s":2,"t":17,"v":17.4},{"s":2,"t":19,"v":14.6},{"s":2,"t":21,"v":16.8},{"s":2,"t":23,"v":14.0},{"s":2,"t":25,"v":16.4},{"s":2,"t":27,"v":12.8},{"s":2,"t":29,"v":15.6},{"s":2,"t":31,"v":13.4},{"s":2,"t":33,"v":15.2},{"s":2,"t":35,"v":9.0},{"s":2,"t":37,"v":14.2},{"s":2,"t":39,"v":12.0},{"s":2,"t":41,"v":14.8},{"s":2,"t":42,"v":8.5},{"s":2,"t":44,"v":13.0},{"s":2,"t":46,"v":15.4},{"s":2,"t":48,"v":12.2},{"s":2,"t":50,"v":14.0},{"s":2,"t":52,"v":11.8},{"s":2,"t":54,"v":13.6},{"s":2,"t":56,"v":11.5},{"s":2,"t":58,"v":13.2},{"s":2,"t":60,"v":11.0},{"s":2,"t":62,"v":12.8},{"s":2,"t":64,"v":10.8},{"s":2,"t":66,"v":12.6},{"s":2,"t":68,"v":11.2},{"s":2,"t":70,"v":12.4},{"s":2,"t":72,"v":10.0},{"s":2,"t":74,"v":13.0},{"s":2,"t":76,"v":9.5},{"s":2,"t":78,"v":12.2},{"s":2,"t":80,"v":10.4},{"s":2,"t":82,"v":11.8},{"s":2,"t":84,"v":9.6},{"s":2,"t":86,"v":12.5},{"s":2,"t":88,"v":15.0},{"s":2,"t":90,"v":10.0},{"s":2,"t":92,"v":11.5},{"s":2,"t":94,"v":8.8},{"s":2,"t":96,"v":10.6},{"s":2,"t":98,"v":8.2},{"s":2,"t":100,"v":10.0},{"s":2,"t":102,"v":7.6},{"s":2,"t":104,"v":9.2},{"s":2,"t":106,"v":7.0},{"s":2,"t":108,"v":8.8},{"s":2,"t":110,"v":6.6},{"s":2,"t":112,"v":9.0},{"s":2,"t":114,"v":6.8},{"s":2,"t":116,"v":8.4},{"s":2,"t":118,"v":6.2},{"s":2,"t":120,"v":8.0},{"s":2,"t":122,"v":6.5},{"s":2,"t":124,"v":7.6},{"s":2,"t":126,"v":5.5},{"s":2,"t":128,"v":4.0},{"s":2,"t":130,"v":7.2},{"s":2,"t":132,"v":5.0},{"s":2,"t":134,"v":8.2},{"s":2,"t":136,"v":4.4},{"s":2,"t":138,"v":7.5},{"s":2,"t":140,"v":5.2},{"s":2,"t":142,"v":8.6},{"s":2,"t":144,"v":5.8},{"s":2,"t":146,"v":7.6},{"s":2,"t":148,"v":5.0},{"s":2,"t":150,"v":6.8},{"s":2,"t":152,"v":8.2},{"s":2,"t":154,"v":5.6},{"s":2,"t":155,"v":10.5},{"s":2,"t":157,"v":11.4},{"s":2,"t":159,"v":9.8},{"s":2,"t":161,"v":11.8},{"s":2,"t":163,"v":10.2},{"s":2,"t":165,"v":12.0},{"s":2,"t":167,"v":10.4},{"s":2,"t":169,"v":11.2},{"s":2,"t":171,"v":9.6},{"s":2,"t":173,"v":12.4},{"s":2,"t":175,"v":10.0},{"s":2,"t":177,"v":11.6},{"s":2,"t":179,"v":9.2},{"s":2,"t":181,"v":12.8},{"s":2,"t":182,"v":14.3},{"s":2,"t":184,"v":10.6},{"s":2,"t":186,"v":11.8},{"s":2,"t":188,"v":9.5},{"s":2,"t":190,"v":12.2},{"s":2,"t":192,"v":10.0},{"s":2,"t":194,"v":11.5},{"s":2,"t":196,"v":9.6},{"s":2,"t":198,"v":15.3},{"s":2,"t":199,"v":10.8},{"s":2,"t":201,"v":8.0},{"s":2,"t":203,"v":6.2},{"s":2,"t":205,"v":7.5},{"s":2,"t":207,"v":6.0},{"s":2,"t":209,"v":7.2},{"s":2,"t":211,"v":6.4},{"s":2,"t":212,"v":11.5},{"s":2,"t":214,"v":12.8},{"s":2,"t":216,"v":10.8},{"s":2,"t":218,"v":12.2},{"s":2,"t":219,"v":8.0},{"s":2,"t":221,"v":4.5},{"s":2,"t":223,"v":4.0},{"s":2,"t":225,"v":3.8},{"s":2,"t":228,"v":4.0}
]
},
"spacing": 14,
"resolve": {"scale": {"color": "independent"}, "legend": {"color": "independent"}},
"vconcat": [
{
"hconcat": [
{
"width": 356, "height": 252,
"title": {"text": "A\u00a0\u00a0\u00a0\u00a0\u00a0\u00a0\u00a0\u00a0\u00a0\u00a0\u00a0\u00a0\u00a0\u00a0\u00a0\u00a0\u00a0\u00a0\u00a0\u00a0\u00a0\u00a0\u00a0\u00a0\u00a0\u00a0\u00a0Apo (Asp404-deprotonated)", "dx": -55},
"data": {"name": "at"},
"layer": [
{"mark": {"type": "line", "strokeWidth": 1.7, "clip": true},
"encoding": {
"x": {"field": "t", "type": "quantitative", "scale": {"domain": [0, 400], "nice": false}, "title": "Time (ns)", "axis": {"values": [0,100,200,300,400], "format": "d", "labelExpr": "datum.value % 200 === 0 ? datum.label : ''", "tickSize": -5, "labelPadding": 7, "titlePadding": -4, "labelFlush": false}},
"y": {"field": "v", "type": "quantitative", "scale": {"domain": [0, 25], "nice": false}, "title": "Lys295-Glu310 (Å)", "axis": {"values": [0,2.5,5,7.5,10,12.5,15,17.5,20,22.5,25], "labelExpr": "datum.value % 5 === 0 ? datum.label : ''", "tickSize": -5, "labelPadding": 11, "titlePadding": 2}},
"color": {"field": "s", "type": "nominal", "scale": {"domain": [1,2,3,4,5,6], "range": ["#000000","#ee2a24","#62c03a","#3652a3","#bc8f8f","#8a43ad"]}, "legend": {"legendX": 259, "legendY": 19, "labelExpr": "'Simulation ' + datum.label"}}
}},
{"transform": [{"filter": "datum.t == 0"}], "mark": {"type": "point", "opacity": 0},
"encoding": {
"x": {"field": "t", "type": "quantitative", "scale": {"domain": [0, 400], "nice": false}, "axis": {"orient": "top", "values": [0,100,200,300,400], "labels": false, "title": null, "tickSize": -5}},
"y": {"field": "v", "type": "quantitative", "scale": {"domain": [0, 25], "nice": false}, "axis": {"orient": "right", "values": [0,2.5,5,7.5,10,12.5,15,17.5,20,22.5,25], "labels": false, "title": null, "tickSize": -5}}
}}
],
"resolve": {"axis": {"x": "independent", "y": "independent"}}
},
{
"width": 362, "height": 252,
"title": {"text": "B\u00a0\u00a0\u00a0\u00a0\u00a0\u00a0\u00a0\u00a0\u00a0\u00a0\u00a0\u00a0\u00a0\u00a0\u00a0\u00a0\u00a0\u00a0\u00a0\u00a0\u00a0Apo (Asp404-protonated)", "dx": -17},
"data": {"name": "bt"},
"layer": [
{"mark": {"type": "line", "strokeWidth": 1.5, "clip": true},
"encoding": {
"x": {"field": "t", "type": "quantitative", "scale": {"domain": [0, 1000], "nice": false}, "title": "Time (ns)", "axis": {"values": [0,100,200,300,400,500,600,700,800,900,1000], "format": "d", "labelExpr": "datum.value % 200 === 0 ? datum.label : ''", "tickSize": -5, "labelPadding": 7, "titlePadding": -4, "labelFlush": false}},
"y": {"field": "v", "type": "quantitative", "scale": {"domain": [0, 25], "nice": false}, "title": "Lys295-Glu310 (Å)", "axis": {"values": [0,2.5,5,7.5,10,12.5,15,17.5,20,22.5,25], "labelExpr": "datum.value % 5 === 0 ? datum.label : ''", "tickSize": -5, "labelPadding": 11, "titlePadding": 2}},
"color": {"field": "s", "type": "nominal", "scale": {"domain": [1,2,3,4,5,6,7,8], "range": ["#000000","#ee2a24","#62c03a","#3652a3","#bc8f8f","#7f92d4","#a845b5","#ffa51a"]}, "legend": {"legendX": 267, "legendY": 13, "labelExpr": "'Simulation ' + datum.label"}}
}},
{"transform": [{"filter": "datum.t == 0"}], "mark": {"type": "point", "opacity": 0},
"encoding": {
"x": {"field": "t", "type": "quantitative", "scale": {"domain": [0, 1000], "nice": false}, "axis": {"orient": "top", "values": [0,100,200,300,400,500,600,700,800,900,1000], "labels": false, "title": null, "tickSize": -5}},
"y": {"field": "v", "type": "quantitative", "scale": {"domain": [0, 25], "nice": false}, "axis": {"orient": "right", "values": [0,2.5,5,7.5,10,12.5,15,17.5,20,22.5,25], "labels": false, "title": null, "tickSize": -5}}
}}
],
"resolve": {"axis": {"x": "independent", "y": "independent"}}
},
{
"width": 362, "height": 252,
"title": {"text": "C\u00a0\u00a0\u00a0\u00a0\u00a0\u00a0\u00a0\u00a0ADP-bound (Asp404-protonated w/o Mg2+)", "dx": -19},
"data": {"name": "ct"},
"layer": [
{"mark": {"type": "line", "strokeWidth": 1.6, "clip": true},
"encoding": {
"x": {"field": "t", "type": "quantitative", "scale": {"domain": [0, 400], "nice": false}, "title": "Time (ns)", "axis": {"values": [0,50,100,150,200,250,300,350,400], "format": "d", "labelExpr": "datum.value % 100 === 0 ? datum.label : ''", "tickSize": -5, "labelPadding": 7, "titlePadding": -4, "labelFlush": false}},
"y": {"field": "v", "type": "quantitative", "scale": {"domain": [0, 25], "nice": false}, "title": "Glu310-Arg409 (Å)", "axis": {"values": [0,2.5,5,7.5,10,12.5,15,17.5,20,22.5,25], "labelExpr": "datum.value % 5 === 0 ? datum.label : ''", "tickSize": -5, "labelPadding": 11, "titlePadding": 2}},
"color": {"field": "s", "type": "nominal", "scale": {"domain": [1,2], "range": ["#000000","#ee2a24"]}, "legend": {"legendX": 255, "legendY": 18, "symbolStrokeWidth": 2.2, "labelFontSize": 12, "labelExpr": "'Simulation ' + datum.label"}}
}},
{"transform": [{"filter": "datum.t == 0"}], "mark": {"type": "point", "opacity": 0},
"encoding": {
"x": {"field": "t", "type": "quantitative", "scale": {"domain": [0, 400], "nice": false}, "axis": {"orient": "top", "values": [0,50,100,150,200,250,300,350,400], "labels": false, "title": null, "tickSize": -5}},
"y": {"field": "v", "type": "quantitative", "scale": {"domain": [0, 25], "nice": false}, "axis": {"orient": "right", "values": [0,2.5,5,7.5,10,12.5,15,17.5,20,22.5,25], "labels": false, "title": null, "tickSize": -5}}
}}
],
"resolve": {"axis": {"x": "independent", "y": "independent"}}
}
],
"spacing": 53,
"bounds": "flush",
"resolve": {"scale": {"color": "independent"}, "legend": {"color": "independent"}}
},
{
"hconcat": [
{
"width": 356, "height": 252,
"data": {"name": "ab"},
"layer": [
{"mark": {"type": "line", "strokeWidth": 1.7, "clip": true},
"encoding": {
"x": {"field": "t", "type": "quantitative", "scale": {"domain": [0, 400], "nice": false}, "title": "Time (ns)", "axis": {"values": [0,100,200,300,400], "format": "d", "labelExpr": "datum.value % 200 === 0 ? datum.label : ''", "tickSize": -5, "labelPadding": 7, "titlePadding": -4, "labelFlush": false}},
"y": {"field": "v", "type": "quantitative", "scale": {"domain": [0, 25], "nice": false}, "title": "Glu310-Arg409 (Å)", "axis": {"values": [0,2.5,5,7.5,10,12.5,15,17.5,20,22.5,25], "labelExpr": "datum.value % 5 === 0 ? datum.label : ''", "tickSize": -5, "labelPadding": 11, "titlePadding": 2}},
"color": {"field": "s", "type": "nominal", "scale": {"domain": [1,2,3,4,5,6], "range": ["#000000","#ee2a24","#62c03a","#3652a3","#bc8f8f","#8a43ad"]}, "legend": null}
}},
{"transform": [{"filter": "datum.t == 0"}], "mark": {"type": "point", "opacity": 0},
"encoding": {
"x": {"field": "t", "type": "quantitative", "scale": {"domain": [0, 400], "nice": false}, "axis": {"orient": "top", "values": [0,100,200,300,400], "labels": false, "title": null, "tickSize": -5}},
"y": {"field": "v", "type": "quantitative", "scale": {"domain": [0, 25], "nice": false}, "axis": {"orient": "right", "values": [0,2.5,5,7.5,10,12.5,15,17.5,20,22.5,25], "labels": false, "title": null, "tickSize": -5}}
}}
],
"resolve": {"axis": {"x": "independent", "y": "independent"}}
},
{
"width": 362, "height": 252,
"data": {"name": "bb"},
"layer": [
{"mark": {"type": "line", "strokeWidth": 1.5, "clip": true},
"encoding": {
"x": {"field": "t", "type": "quantitative", "scale": {"domain": [0, 1000], "nice": false}, "title": "Time (ns)", "axis": {"values": [0,100,200,300,400,500,600,700,800,900,1000], "format": "d", "labelExpr": "datum.value % 200 === 0 ? datum.label : ''", "tickSize": -5, "labelPadding": 7, "titlePadding": -4, "labelFlush": false}},
"y": {"field": "v", "type": "quantitative", "scale": {"domain": [0, 25], "nice": false}, "title": "Glu310-Arg409 (Å)", "axis": {"values": [0,2.5,5,7.5,10,12.5,15,17.5,20,22.5,25], "labelExpr": "datum.value % 5 === 0 ? datum.label : ''", "tickSize": -5, "labelPadding": 11, "titlePadding": 2}},
"color": {"field": "s", "type": "nominal", "scale": {"domain": [1,2,3,4,5,6,7,8], "range": ["#000000","#ee2a24","#62c03a","#3652a3","#bc8f8f","#7f92d4","#a845b5","#ffa51a"]}, "legend": null}
}},
{"transform": [{"filter": "datum.t == 0"}], "mark": {"type": "point", "opacity": 0},
"encoding": {
"x": {"field": "t", "type": "quantitative", "scale": {"domain": [0, 1000], "nice": false}, "axis": {"orient": "top", "values": [0,100,200,300,400,500,600,700,800,900,1000], "labels": false, "title": null, "tickSize": -5}},
"y": {"field": "v", "type": "quantitative", "scale": {"domain": [0, 25], "nice": false}, "axis": {"orient": "right", "values": [0,2.5,5,7.5,10,12.5,15,17.5,20,22.5,25], "labels": false, "title": null, "tickSize": -5}}
}}
],
"resolve": {"axis": {"x": "independent", "y": "independent"}}
},
{
"width": 362, "height": 252,
"data": {"name": "cb"},
"layer": [
{"mark": {"type": "line", "strokeWidth": 1.6, "clip": true},
"encoding": {
"x": {"field": "t", "type": "quantitative", "scale": {"domain": [0, 400], "nice": false}, "title": "Time (ns)", "axis": {"values": [0,50,100,150,200,250,300,350,400], "format": "d", "labelExpr": "datum.value % 100 === 0 ? datum.label : ''", "tickSize": -5, "labelPadding": 7, "titlePadding": -4, "labelFlush": false}},
"y": {"field": "v", "type": "quantitative", "scale": {"domain": [0, 25], "nice": false}, "title": "Glu310-Arg409 (Å)", "axis": {"values": [0,2.5,5,7.5,10,12.5,15,17.5,20,22.5,25], "labelExpr": "datum.value % 5 === 0 ? datum.label : ''", "tickSize": -5, "labelPadding": 11, "titlePadding": 2}},
"color": {"field": "s", "type": "nominal", "scale": {"domain": [1,2], "range": ["#000000","#ee2a24"]}, "legend": null}
}},
{"transform": [{"filter": "datum.t == 0"}], "mark": {"type": "point", "opacity": 0},
"encoding": {
"x": {"field": "t", "type": "quantitative", "scale": {"domain": [0, 400], "nice": false}, "axis": {"orient": "top", "values": [0,50,100,150,200,250,300,350,400], "labels": false, "title": null, "tickSize": -5}},
"y": {"field": "v", "type": "quantitative", "scale": {"domain": [0, 25], "nice": false}, "axis": {"orient": "right", "values": [0,2.5,5,7.5,10,12.5,15,17.5,20,22.5,25], "labels": false, "title": null, "tickSize": -5}}
}}
],
"resolve": {"axis": {"x": "independent", "y": "independent"}}
}
],
"spacing": 53,
"bounds": "flush",
"resolve": {"scale": {"color": "independent"}, "legend": {"color": "independent"}}
}
]
}
